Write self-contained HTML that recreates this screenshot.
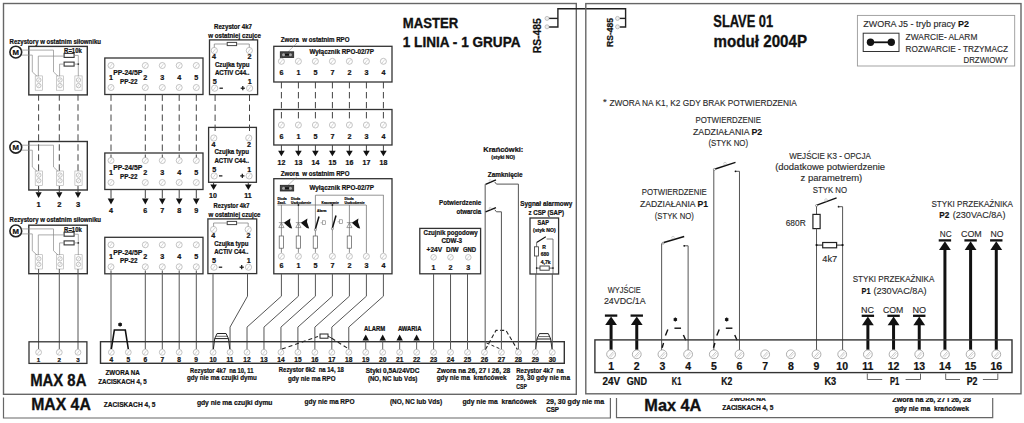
<!DOCTYPE html>
<html><head><meta charset="utf-8"><title>MASTER / SLAVE</title>
<style>
html,body{margin:0;padding:0;background:#fff;}
body{width:1024px;height:423px;overflow:hidden;}
svg{display:block;font-family:"Liberation Sans", sans-serif;}
text{fill:#111;stroke:#111;stroke-width:0.22px;}
text.r{fill:#2a2a2a;stroke:#2a2a2a;stroke-width:0.14px;}
text.r tspan[font-weight]{fill:#111;stroke:#111;}
</style></head>
<body>
<svg width="1024" height="423" viewBox="0 0 1024 423">
<defs><clipPath id="cl1"><rect x="600" y="397.9" width="424" height="30"/></clipPath></defs>
<rect width="1024" height="423" fill="#fff"/>
<rect x="3.5" y="3.5" width="572.8" height="390.8" fill="none" stroke="#666" stroke-width="1.4"/>
<text x="9.6" y="43.9" font-size="6.6" font-weight="bold" textLength="91.4" lengthAdjust="spacingAndGlyphs">Rezystory w ostatnim siłowniku</text>
<rect x="28.8" y="46.4" width="58.5" height="48.5" fill="none" stroke="#333" stroke-width="1.4"/>
<circle cx="15.8" cy="52.1" r="5.9" fill="#fff" stroke="#222" stroke-width="1.6"/>
<text x="15.8" y="54.9" font-size="7.8" font-weight="bold" text-anchor="middle">M</text>
<rect x="35.2" y="75.9" width="7.2" height="14.3" fill="none" stroke="#aaa" stroke-width="0.6"/>
<circle cx="38.8" cy="80" r="2.2" fill="none" stroke="#aaa" stroke-width="0.7"/>
<line x1="37.81" y1="81.32" x2="39.79" y2="78.68" stroke="#bbb" stroke-width="0.6"/>
<circle cx="38.8" cy="85.6" r="2.2" fill="none" stroke="#aaa" stroke-width="0.7"/>
<line x1="37.81" y1="86.92" x2="39.79" y2="84.28" stroke="#bbb" stroke-width="0.6"/>
<rect x="56.4" y="75.9" width="7.2" height="14.3" fill="none" stroke="#aaa" stroke-width="0.6"/>
<circle cx="60" cy="80" r="2.2" fill="none" stroke="#aaa" stroke-width="0.7"/>
<line x1="59.01" y1="81.32" x2="60.99" y2="78.68" stroke="#bbb" stroke-width="0.6"/>
<circle cx="60" cy="85.6" r="2.2" fill="none" stroke="#aaa" stroke-width="0.7"/>
<line x1="59.01" y1="86.92" x2="60.99" y2="84.28" stroke="#bbb" stroke-width="0.6"/>
<rect x="74.9" y="75.9" width="7.2" height="14.3" fill="none" stroke="#aaa" stroke-width="0.6"/>
<circle cx="78.5" cy="80" r="2.2" fill="none" stroke="#aaa" stroke-width="0.7"/>
<line x1="77.51" y1="81.32" x2="79.49" y2="78.68" stroke="#bbb" stroke-width="0.6"/>
<circle cx="78.5" cy="85.6" r="2.2" fill="none" stroke="#aaa" stroke-width="0.7"/>
<line x1="77.51" y1="86.92" x2="79.49" y2="84.28" stroke="#bbb" stroke-width="0.6"/>
<polyline points="21.6,50.1 53.5,50.1 53.5,71.9 58.2,76.4" fill="none" stroke="#888" stroke-width="0.7"/>
<polyline points="21.6,55.1 32.3,55.1 32.3,71.9 37.2,76.4" fill="none" stroke="#888" stroke-width="0.7"/>
<rect x="64.1" y="53.4" width="10" height="4" fill="none" stroke="#333" stroke-width="1.1"/>
<rect x="64.1" y="62.1" width="10" height="4" fill="none" stroke="#333" stroke-width="1.1"/>
<text x="64.1" y="52.9" font-size="6.4" font-weight="bold" textLength="17.7" lengthAdjust="spacingAndGlyphs">R=10k</text>
<polyline points="38.3,76.4 38.3,56.1 64.1,56.1" fill="none" stroke="#888" stroke-width="0.7"/>
<polyline points="59.6,76.4 59.6,64.1 64.1,64.1" fill="none" stroke="#888" stroke-width="0.7"/>
<polyline points="74.1,55.4 78.3,55.4 78.3,76.4" fill="none" stroke="#888" stroke-width="0.7"/>
<line x1="74.1" y1="64.1" x2="78.3" y2="64.1" stroke="#888" stroke-width="0.7"/>
<circle cx="78.3" cy="64.1" r="0.9" fill="#333" stroke="#333" stroke-width="0"/>
<rect x="28.8" y="141.5" width="58.5" height="48.5" fill="none" stroke="#333" stroke-width="1.4"/>
<circle cx="15.8" cy="147.2" r="5.9" fill="#fff" stroke="#222" stroke-width="1.6"/>
<text x="15.8" y="150" font-size="7.8" font-weight="bold" text-anchor="middle">M</text>
<rect x="35.2" y="171" width="7.2" height="14.3" fill="none" stroke="#aaa" stroke-width="0.6"/>
<circle cx="38.8" cy="175.1" r="2.2" fill="none" stroke="#aaa" stroke-width="0.7"/>
<line x1="37.81" y1="176.42" x2="39.79" y2="173.78" stroke="#bbb" stroke-width="0.6"/>
<circle cx="38.8" cy="180.7" r="2.2" fill="none" stroke="#aaa" stroke-width="0.7"/>
<line x1="37.81" y1="182.02" x2="39.79" y2="179.38" stroke="#bbb" stroke-width="0.6"/>
<rect x="56.4" y="171" width="7.2" height="14.3" fill="none" stroke="#aaa" stroke-width="0.6"/>
<circle cx="60" cy="175.1" r="2.2" fill="none" stroke="#aaa" stroke-width="0.7"/>
<line x1="59.01" y1="176.42" x2="60.99" y2="173.78" stroke="#bbb" stroke-width="0.6"/>
<circle cx="60" cy="180.7" r="2.2" fill="none" stroke="#aaa" stroke-width="0.7"/>
<line x1="59.01" y1="182.02" x2="60.99" y2="179.38" stroke="#bbb" stroke-width="0.6"/>
<rect x="74.9" y="171" width="7.2" height="14.3" fill="none" stroke="#aaa" stroke-width="0.6"/>
<circle cx="78.5" cy="175.1" r="2.2" fill="none" stroke="#aaa" stroke-width="0.7"/>
<line x1="77.51" y1="176.42" x2="79.49" y2="173.78" stroke="#bbb" stroke-width="0.6"/>
<circle cx="78.5" cy="180.7" r="2.2" fill="none" stroke="#aaa" stroke-width="0.7"/>
<line x1="77.51" y1="182.02" x2="79.49" y2="179.38" stroke="#bbb" stroke-width="0.6"/>
<polyline points="21.6,145.2 53.5,145.2 53.5,167 58.2,171.5" fill="none" stroke="#888" stroke-width="0.7"/>
<polyline points="21.6,150.2 32.3,150.2 32.3,167 37.2,171.5" fill="none" stroke="#888" stroke-width="0.7"/>
<text x="9.6" y="221.8" font-size="6.6" font-weight="bold" textLength="91.4" lengthAdjust="spacingAndGlyphs">Rezystory w ostatnim siłowniku</text>
<rect x="28.8" y="225.2" width="58.5" height="48.5" fill="none" stroke="#333" stroke-width="1.4"/>
<circle cx="15.8" cy="230.9" r="5.9" fill="#fff" stroke="#222" stroke-width="1.6"/>
<text x="15.8" y="233.7" font-size="7.8" font-weight="bold" text-anchor="middle">M</text>
<rect x="35.2" y="254.7" width="7.2" height="14.3" fill="none" stroke="#aaa" stroke-width="0.6"/>
<circle cx="38.8" cy="258.8" r="2.2" fill="none" stroke="#aaa" stroke-width="0.7"/>
<line x1="37.81" y1="260.12" x2="39.79" y2="257.48" stroke="#bbb" stroke-width="0.6"/>
<circle cx="38.8" cy="264.4" r="2.2" fill="none" stroke="#aaa" stroke-width="0.7"/>
<line x1="37.81" y1="265.72" x2="39.79" y2="263.08" stroke="#bbb" stroke-width="0.6"/>
<rect x="56.4" y="254.7" width="7.2" height="14.3" fill="none" stroke="#aaa" stroke-width="0.6"/>
<circle cx="60" cy="258.8" r="2.2" fill="none" stroke="#aaa" stroke-width="0.7"/>
<line x1="59.01" y1="260.12" x2="60.99" y2="257.48" stroke="#bbb" stroke-width="0.6"/>
<circle cx="60" cy="264.4" r="2.2" fill="none" stroke="#aaa" stroke-width="0.7"/>
<line x1="59.01" y1="265.72" x2="60.99" y2="263.08" stroke="#bbb" stroke-width="0.6"/>
<rect x="74.9" y="254.7" width="7.2" height="14.3" fill="none" stroke="#aaa" stroke-width="0.6"/>
<circle cx="78.5" cy="258.8" r="2.2" fill="none" stroke="#aaa" stroke-width="0.7"/>
<line x1="77.51" y1="260.12" x2="79.49" y2="257.48" stroke="#bbb" stroke-width="0.6"/>
<circle cx="78.5" cy="264.4" r="2.2" fill="none" stroke="#aaa" stroke-width="0.7"/>
<line x1="77.51" y1="265.72" x2="79.49" y2="263.08" stroke="#bbb" stroke-width="0.6"/>
<polyline points="21.6,228.9 53.5,228.9 53.5,250.7 58.2,255.2" fill="none" stroke="#888" stroke-width="0.7"/>
<polyline points="21.6,233.9 32.3,233.9 32.3,250.7 37.2,255.2" fill="none" stroke="#888" stroke-width="0.7"/>
<rect x="64.1" y="232.2" width="10" height="4" fill="none" stroke="#333" stroke-width="1.1"/>
<rect x="64.1" y="240.9" width="10" height="4" fill="none" stroke="#333" stroke-width="1.1"/>
<text x="64.1" y="231.7" font-size="6.4" font-weight="bold" textLength="17.7" lengthAdjust="spacingAndGlyphs">R=10k</text>
<polyline points="38.3,255.2 38.3,234.9 64.1,234.9" fill="none" stroke="#888" stroke-width="0.7"/>
<polyline points="59.6,255.2 59.6,242.9 64.1,242.9" fill="none" stroke="#888" stroke-width="0.7"/>
<polyline points="74.1,234.2 78.3,234.2 78.3,255.2" fill="none" stroke="#888" stroke-width="0.7"/>
<line x1="74.1" y1="242.9" x2="78.3" y2="242.9" stroke="#888" stroke-width="0.7"/>
<circle cx="78.3" cy="242.9" r="0.9" fill="#333" stroke="#333" stroke-width="0"/>
<line x1="38.6" y1="94.3" x2="38.6" y2="172" stroke="#444" stroke-width="1" stroke-dasharray="6.4,3.6"/>
<line x1="38.6" y1="186" x2="38.6" y2="192" stroke="#444" stroke-width="1"/>
<polygon points="35.5,192.2 41.7,192.2 38.6,197.9" fill="#111" stroke="none" stroke-width="0"/>
<line x1="38.6" y1="269" x2="38.6" y2="349" stroke="#555" stroke-width="1"/>
<line x1="59.3" y1="94.3" x2="59.3" y2="172" stroke="#444" stroke-width="1" stroke-dasharray="6.4,3.6"/>
<line x1="59.3" y1="186" x2="59.3" y2="192" stroke="#444" stroke-width="1"/>
<polygon points="56.2,192.2 62.4,192.2 59.3,197.9" fill="#111" stroke="none" stroke-width="0"/>
<line x1="59.3" y1="269" x2="59.3" y2="349" stroke="#555" stroke-width="1"/>
<line x1="78" y1="94.3" x2="78" y2="172" stroke="#444" stroke-width="1" stroke-dasharray="6.4,3.6"/>
<line x1="78" y1="186" x2="78" y2="192" stroke="#444" stroke-width="1"/>
<polygon points="74.9,192.2 81.1,192.2 78,197.9" fill="#111" stroke="none" stroke-width="0"/>
<line x1="78" y1="269" x2="78" y2="349" stroke="#555" stroke-width="1"/>
<text x="38.6" y="206.5" font-size="7.6" font-weight="bold" text-anchor="middle">1</text>
<text x="59.3" y="206.5" font-size="7.6" font-weight="bold" text-anchor="middle">2</text>
<text x="78" y="206.5" font-size="7.6" font-weight="bold" text-anchor="middle">3</text>
<rect x="29" y="341.8" width="57.9" height="21.6" fill="none" stroke="#333" stroke-width="1.3"/>
<circle cx="38.6" cy="352.3" r="2.9" fill="none" stroke="#aaa" stroke-width="0.7"/>
<line x1="37.3" y1="354.04" x2="39.91" y2="350.56" stroke="#bbb" stroke-width="0.6"/>
<text x="38.6" y="362.3" font-size="6.2" font-weight="bold" text-anchor="middle">1</text>
<circle cx="59.3" cy="352.3" r="2.9" fill="none" stroke="#aaa" stroke-width="0.7"/>
<line x1="57.99" y1="354.04" x2="60.6" y2="350.56" stroke="#bbb" stroke-width="0.6"/>
<text x="59.3" y="362.3" font-size="6.2" font-weight="bold" text-anchor="middle">2</text>
<circle cx="78" cy="352.3" r="2.9" fill="none" stroke="#aaa" stroke-width="0.7"/>
<line x1="76.69" y1="354.04" x2="79.31" y2="350.56" stroke="#bbb" stroke-width="0.6"/>
<text x="78" y="362.3" font-size="6.2" font-weight="bold" text-anchor="middle">3</text>
<text x="30.2" y="386.1" font-size="16.2" font-weight="bold" textLength="56.2" lengthAdjust="spacingAndGlyphs" style="stroke:#111;stroke-width:0.32px">MAX 8A</text>
<rect x="104.8" y="58" width="98.2" height="36.5" fill="none" stroke="#333" stroke-width="1.3"/>
<circle cx="111" cy="65.5" r="3" fill="none" stroke="#aaa" stroke-width="0.7"/>
<line x1="109.65" y1="67.3" x2="112.35" y2="63.7" stroke="#bbb" stroke-width="0.6"/>
<circle cx="111" cy="87.5" r="3" fill="none" stroke="#aaa" stroke-width="0.7"/>
<line x1="109.65" y1="89.3" x2="112.35" y2="85.7" stroke="#bbb" stroke-width="0.6"/>
<circle cx="145.3" cy="65.5" r="3" fill="none" stroke="#aaa" stroke-width="0.7"/>
<line x1="143.95" y1="67.3" x2="146.65" y2="63.7" stroke="#bbb" stroke-width="0.6"/>
<circle cx="145.3" cy="87.5" r="3" fill="none" stroke="#aaa" stroke-width="0.7"/>
<line x1="143.95" y1="89.3" x2="146.65" y2="85.7" stroke="#bbb" stroke-width="0.6"/>
<circle cx="162.3" cy="65.5" r="3" fill="none" stroke="#aaa" stroke-width="0.7"/>
<line x1="160.95" y1="67.3" x2="163.65" y2="63.7" stroke="#bbb" stroke-width="0.6"/>
<circle cx="162.3" cy="87.5" r="3" fill="none" stroke="#aaa" stroke-width="0.7"/>
<line x1="160.95" y1="89.3" x2="163.65" y2="85.7" stroke="#bbb" stroke-width="0.6"/>
<circle cx="179.2" cy="65.5" r="3" fill="none" stroke="#aaa" stroke-width="0.7"/>
<line x1="177.85" y1="67.3" x2="180.55" y2="63.7" stroke="#bbb" stroke-width="0.6"/>
<circle cx="179.2" cy="87.5" r="3" fill="none" stroke="#aaa" stroke-width="0.7"/>
<line x1="177.85" y1="89.3" x2="180.55" y2="85.7" stroke="#bbb" stroke-width="0.6"/>
<circle cx="196.3" cy="65.5" r="3" fill="none" stroke="#aaa" stroke-width="0.7"/>
<line x1="194.95" y1="67.3" x2="197.65" y2="63.7" stroke="#bbb" stroke-width="0.6"/>
<circle cx="196.3" cy="87.5" r="3" fill="none" stroke="#aaa" stroke-width="0.7"/>
<line x1="194.95" y1="89.3" x2="197.65" y2="85.7" stroke="#bbb" stroke-width="0.6"/>
<text x="111" y="79.6" font-size="7.2" font-weight="bold" text-anchor="middle">1</text>
<text x="145.3" y="79.6" font-size="7.2" font-weight="bold" text-anchor="middle">2</text>
<text x="162.3" y="79.6" font-size="7.2" font-weight="bold" text-anchor="middle">3</text>
<text x="179.2" y="79.6" font-size="7.2" font-weight="bold" text-anchor="middle">4</text>
<text x="196.3" y="79.6" font-size="7.2" font-weight="bold" text-anchor="middle">5</text>
<text x="113.3" y="75.2" font-size="7" font-weight="bold" textLength="29" lengthAdjust="spacingAndGlyphs">PP-24/5P</text>
<text x="120" y="83.7" font-size="7" font-weight="bold" textLength="17.5" lengthAdjust="spacingAndGlyphs">PP-22</text>
<rect x="104.8" y="153" width="98.2" height="36.5" fill="none" stroke="#333" stroke-width="1.3"/>
<circle cx="111" cy="160.5" r="3" fill="none" stroke="#aaa" stroke-width="0.7"/>
<line x1="109.65" y1="162.3" x2="112.35" y2="158.7" stroke="#bbb" stroke-width="0.6"/>
<circle cx="111" cy="182.5" r="3" fill="none" stroke="#aaa" stroke-width="0.7"/>
<line x1="109.65" y1="184.3" x2="112.35" y2="180.7" stroke="#bbb" stroke-width="0.6"/>
<circle cx="145.3" cy="160.5" r="3" fill="none" stroke="#aaa" stroke-width="0.7"/>
<line x1="143.95" y1="162.3" x2="146.65" y2="158.7" stroke="#bbb" stroke-width="0.6"/>
<circle cx="145.3" cy="182.5" r="3" fill="none" stroke="#aaa" stroke-width="0.7"/>
<line x1="143.95" y1="184.3" x2="146.65" y2="180.7" stroke="#bbb" stroke-width="0.6"/>
<circle cx="162.3" cy="160.5" r="3" fill="none" stroke="#aaa" stroke-width="0.7"/>
<line x1="160.95" y1="162.3" x2="163.65" y2="158.7" stroke="#bbb" stroke-width="0.6"/>
<circle cx="162.3" cy="182.5" r="3" fill="none" stroke="#aaa" stroke-width="0.7"/>
<line x1="160.95" y1="184.3" x2="163.65" y2="180.7" stroke="#bbb" stroke-width="0.6"/>
<circle cx="179.2" cy="160.5" r="3" fill="none" stroke="#aaa" stroke-width="0.7"/>
<line x1="177.85" y1="162.3" x2="180.55" y2="158.7" stroke="#bbb" stroke-width="0.6"/>
<circle cx="179.2" cy="182.5" r="3" fill="none" stroke="#aaa" stroke-width="0.7"/>
<line x1="177.85" y1="184.3" x2="180.55" y2="180.7" stroke="#bbb" stroke-width="0.6"/>
<circle cx="196.3" cy="160.5" r="3" fill="none" stroke="#aaa" stroke-width="0.7"/>
<line x1="194.95" y1="162.3" x2="197.65" y2="158.7" stroke="#bbb" stroke-width="0.6"/>
<circle cx="196.3" cy="182.5" r="3" fill="none" stroke="#aaa" stroke-width="0.7"/>
<line x1="194.95" y1="184.3" x2="197.65" y2="180.7" stroke="#bbb" stroke-width="0.6"/>
<text x="111" y="174.6" font-size="7.2" font-weight="bold" text-anchor="middle">1</text>
<text x="145.3" y="174.6" font-size="7.2" font-weight="bold" text-anchor="middle">2</text>
<text x="162.3" y="174.6" font-size="7.2" font-weight="bold" text-anchor="middle">3</text>
<text x="179.2" y="174.6" font-size="7.2" font-weight="bold" text-anchor="middle">4</text>
<text x="196.3" y="174.6" font-size="7.2" font-weight="bold" text-anchor="middle">5</text>
<text x="113.3" y="170.2" font-size="7" font-weight="bold" textLength="29" lengthAdjust="spacingAndGlyphs">PP-24/5P</text>
<text x="120" y="178.7" font-size="7" font-weight="bold" textLength="17.5" lengthAdjust="spacingAndGlyphs">PP-22</text>
<rect x="104.8" y="237.3" width="98.2" height="36.5" fill="none" stroke="#333" stroke-width="1.3"/>
<circle cx="111" cy="244.8" r="3" fill="none" stroke="#aaa" stroke-width="0.7"/>
<line x1="109.65" y1="246.6" x2="112.35" y2="243" stroke="#bbb" stroke-width="0.6"/>
<circle cx="111" cy="266.8" r="3" fill="none" stroke="#aaa" stroke-width="0.7"/>
<line x1="109.65" y1="268.6" x2="112.35" y2="265" stroke="#bbb" stroke-width="0.6"/>
<circle cx="145.3" cy="244.8" r="3" fill="none" stroke="#aaa" stroke-width="0.7"/>
<line x1="143.95" y1="246.6" x2="146.65" y2="243" stroke="#bbb" stroke-width="0.6"/>
<circle cx="145.3" cy="266.8" r="3" fill="none" stroke="#aaa" stroke-width="0.7"/>
<line x1="143.95" y1="268.6" x2="146.65" y2="265" stroke="#bbb" stroke-width="0.6"/>
<circle cx="162.3" cy="244.8" r="3" fill="none" stroke="#aaa" stroke-width="0.7"/>
<line x1="160.95" y1="246.6" x2="163.65" y2="243" stroke="#bbb" stroke-width="0.6"/>
<circle cx="162.3" cy="266.8" r="3" fill="none" stroke="#aaa" stroke-width="0.7"/>
<line x1="160.95" y1="268.6" x2="163.65" y2="265" stroke="#bbb" stroke-width="0.6"/>
<circle cx="179.2" cy="244.8" r="3" fill="none" stroke="#aaa" stroke-width="0.7"/>
<line x1="177.85" y1="246.6" x2="180.55" y2="243" stroke="#bbb" stroke-width="0.6"/>
<circle cx="179.2" cy="266.8" r="3" fill="none" stroke="#aaa" stroke-width="0.7"/>
<line x1="177.85" y1="268.6" x2="180.55" y2="265" stroke="#bbb" stroke-width="0.6"/>
<circle cx="196.3" cy="244.8" r="3" fill="none" stroke="#aaa" stroke-width="0.7"/>
<line x1="194.95" y1="246.6" x2="197.65" y2="243" stroke="#bbb" stroke-width="0.6"/>
<circle cx="196.3" cy="266.8" r="3" fill="none" stroke="#aaa" stroke-width="0.7"/>
<line x1="194.95" y1="268.6" x2="197.65" y2="265" stroke="#bbb" stroke-width="0.6"/>
<text x="111" y="258.9" font-size="7.2" font-weight="bold" text-anchor="middle">1</text>
<text x="145.3" y="258.9" font-size="7.2" font-weight="bold" text-anchor="middle">2</text>
<text x="162.3" y="258.9" font-size="7.2" font-weight="bold" text-anchor="middle">3</text>
<text x="179.2" y="258.9" font-size="7.2" font-weight="bold" text-anchor="middle">4</text>
<text x="196.3" y="258.9" font-size="7.2" font-weight="bold" text-anchor="middle">5</text>
<text x="113.3" y="254.5" font-size="7" font-weight="bold" textLength="29" lengthAdjust="spacingAndGlyphs">PP-24/5P</text>
<text x="120" y="263" font-size="7" font-weight="bold" textLength="17.5" lengthAdjust="spacingAndGlyphs">PP-22</text>
<line x1="111" y1="94.5" x2="111" y2="157.5" stroke="#444" stroke-width="1" stroke-dasharray="6.4,3.6"/>
<line x1="111" y1="189.5" x2="111" y2="198" stroke="#444" stroke-width="1"/>
<polygon points="107.7,198.4 114.3,198.4 111,204.4" fill="#111" stroke="none" stroke-width="0"/>
<line x1="111" y1="270.5" x2="111" y2="349" stroke="#555" stroke-width="1"/>
<line x1="145.3" y1="94.5" x2="145.3" y2="157.5" stroke="#444" stroke-width="1" stroke-dasharray="6.4,3.6"/>
<line x1="145.3" y1="189.5" x2="145.3" y2="198" stroke="#444" stroke-width="1"/>
<polygon points="142,198.4 148.6,198.4 145.3,204.4" fill="#111" stroke="none" stroke-width="0"/>
<line x1="145.3" y1="270.5" x2="145.3" y2="349" stroke="#555" stroke-width="1"/>
<line x1="162.3" y1="94.5" x2="162.3" y2="157.5" stroke="#444" stroke-width="1" stroke-dasharray="6.4,3.6"/>
<line x1="162.3" y1="189.5" x2="162.3" y2="198" stroke="#444" stroke-width="1"/>
<polygon points="159,198.4 165.6,198.4 162.3,204.4" fill="#111" stroke="none" stroke-width="0"/>
<line x1="162.3" y1="270.5" x2="162.3" y2="349" stroke="#555" stroke-width="1"/>
<line x1="179.2" y1="94.5" x2="179.2" y2="157.5" stroke="#444" stroke-width="1" stroke-dasharray="6.4,3.6"/>
<line x1="179.2" y1="189.5" x2="179.2" y2="198" stroke="#444" stroke-width="1"/>
<polygon points="175.9,198.4 182.5,198.4 179.2,204.4" fill="#111" stroke="none" stroke-width="0"/>
<line x1="179.2" y1="270.5" x2="179.2" y2="349" stroke="#555" stroke-width="1"/>
<line x1="196.3" y1="94.5" x2="196.3" y2="157.5" stroke="#444" stroke-width="1" stroke-dasharray="6.4,3.6"/>
<line x1="196.3" y1="189.5" x2="196.3" y2="198" stroke="#444" stroke-width="1"/>
<polygon points="193,198.4 199.6,198.4 196.3,204.4" fill="#111" stroke="none" stroke-width="0"/>
<line x1="196.3" y1="270.5" x2="196.3" y2="349" stroke="#555" stroke-width="1"/>
<text x="111" y="213" font-size="7.2" font-weight="bold" text-anchor="middle">4</text>
<text x="145.3" y="213" font-size="7.2" font-weight="bold" text-anchor="middle">6</text>
<text x="162.3" y="213" font-size="7.2" font-weight="bold" text-anchor="middle">7</text>
<text x="179.2" y="213" font-size="7.2" font-weight="bold" text-anchor="middle">8</text>
<text x="196.3" y="213" font-size="7.2" font-weight="bold" text-anchor="middle">9</text>
<text x="214" y="28.6" font-size="6.8" font-weight="bold" textLength="38" lengthAdjust="spacingAndGlyphs">Rezystor 4k7</text>
<text x="208.2" y="37.8" font-size="6.8" font-weight="bold" textLength="52.8" lengthAdjust="spacingAndGlyphs">w ostatniej czujce</text>
<rect x="209.5" y="39.9" width="48.1" height="54.7" fill="none" stroke="#333" stroke-width="1.3"/>
<circle cx="214.3" cy="50.5" r="3.1" fill="none" stroke="#aaa" stroke-width="0.7"/>
<line x1="212.91" y1="52.36" x2="215.7" y2="48.64" stroke="#bbb" stroke-width="0.6"/>
<circle cx="249.3" cy="50.5" r="3.1" fill="none" stroke="#aaa" stroke-width="0.7"/>
<line x1="247.91" y1="52.36" x2="250.7" y2="48.64" stroke="#bbb" stroke-width="0.6"/>
<circle cx="214.7" cy="88.2" r="3.1" fill="none" stroke="#aaa" stroke-width="0.7"/>
<line x1="213.31" y1="90.06" x2="216.1" y2="86.34" stroke="#bbb" stroke-width="0.6"/>
<circle cx="249.6" cy="88.2" r="3.1" fill="none" stroke="#aaa" stroke-width="0.7"/>
<line x1="248.21" y1="90.06" x2="251" y2="86.34" stroke="#bbb" stroke-width="0.6"/>
<text x="214" y="59.2" font-size="7.2" font-weight="bold" text-anchor="middle">4</text>
<text x="249.6" y="59.2" font-size="7.2" font-weight="bold" text-anchor="middle">2</text>
<text x="214.9" y="66.9" font-size="6.7" font-weight="bold" textLength="34.6" lengthAdjust="spacingAndGlyphs">Czujka typu</text>
<text x="214.9" y="75.1" font-size="6.7" font-weight="bold" textLength="34.6" lengthAdjust="spacingAndGlyphs">ACTIV C44..</text>
<text x="214.7" y="84.2" font-size="7.2" font-weight="bold" text-anchor="middle">5</text>
<text x="249.8" y="84.2" font-size="7.2" font-weight="bold" text-anchor="middle">1</text>
<line x1="219.5" y1="88.2" x2="222.9" y2="88.2" stroke="#111" stroke-width="1.2"/>
<line x1="240.7" y1="88.2" x2="244.9" y2="88.2" stroke="#111" stroke-width="1.2"/>
<line x1="242.8" y1="86.1" x2="242.8" y2="90.3" stroke="#111" stroke-width="1.2"/>
<rect x="227.2" y="42.4" width="9.4" height="3.2" fill="#fff" stroke="#444" stroke-width="1"/>
<polyline points="214.3,47.5 214.3,44 227.2,44" fill="none" stroke="#777" stroke-width="0.7"/>
<polyline points="236.6,44 249.3,44 249.3,47.5" fill="none" stroke="#777" stroke-width="0.7"/>
<rect x="208.6" y="127.4" width="47.8" height="54.9" fill="none" stroke="#333" stroke-width="1.3"/>
<circle cx="213.8" cy="138" r="3.1" fill="none" stroke="#aaa" stroke-width="0.7"/>
<line x1="212.41" y1="139.86" x2="215.2" y2="136.14" stroke="#bbb" stroke-width="0.6"/>
<circle cx="248.8" cy="138" r="3.1" fill="none" stroke="#aaa" stroke-width="0.7"/>
<line x1="247.41" y1="139.86" x2="250.2" y2="136.14" stroke="#bbb" stroke-width="0.6"/>
<circle cx="214.2" cy="175.9" r="3.1" fill="none" stroke="#aaa" stroke-width="0.7"/>
<line x1="212.81" y1="177.76" x2="215.6" y2="174.04" stroke="#bbb" stroke-width="0.6"/>
<circle cx="249.1" cy="175.9" r="3.1" fill="none" stroke="#aaa" stroke-width="0.7"/>
<line x1="247.71" y1="177.76" x2="250.5" y2="174.04" stroke="#bbb" stroke-width="0.6"/>
<text x="213.5" y="146.7" font-size="7.2" font-weight="bold" text-anchor="middle">4</text>
<text x="249.1" y="146.7" font-size="7.2" font-weight="bold" text-anchor="middle">2</text>
<text x="214.4" y="154.4" font-size="6.7" font-weight="bold" textLength="34.6" lengthAdjust="spacingAndGlyphs">Czujka typu</text>
<text x="214.4" y="162.6" font-size="6.7" font-weight="bold" textLength="34.6" lengthAdjust="spacingAndGlyphs">ACTIV C44..</text>
<text x="214.2" y="171.9" font-size="7.2" font-weight="bold" text-anchor="middle">5</text>
<text x="249.3" y="171.9" font-size="7.2" font-weight="bold" text-anchor="middle">1</text>
<line x1="219" y1="175.9" x2="222.4" y2="175.9" stroke="#111" stroke-width="1.2"/>
<line x1="240.2" y1="175.9" x2="244.4" y2="175.9" stroke="#111" stroke-width="1.2"/>
<line x1="242.3" y1="173.8" x2="242.3" y2="178" stroke="#111" stroke-width="1.2"/>
<text x="213.6" y="208.2" font-size="6.8" font-weight="bold" textLength="35.9" lengthAdjust="spacingAndGlyphs">Rezystor 4k7</text>
<text x="208.5" y="216.8" font-size="6.8" font-weight="bold" textLength="52" lengthAdjust="spacingAndGlyphs">w ostatniej czujce</text>
<rect x="207.9" y="218.9" width="48.8" height="54.7" fill="none" stroke="#333" stroke-width="1.3"/>
<circle cx="213.6" cy="229.5" r="3.1" fill="none" stroke="#aaa" stroke-width="0.7"/>
<line x1="212.2" y1="231.36" x2="215" y2="227.64" stroke="#bbb" stroke-width="0.6"/>
<circle cx="248.2" cy="229.5" r="3.1" fill="none" stroke="#aaa" stroke-width="0.7"/>
<line x1="246.8" y1="231.36" x2="249.59" y2="227.64" stroke="#bbb" stroke-width="0.6"/>
<circle cx="214" cy="267.2" r="3.1" fill="none" stroke="#aaa" stroke-width="0.7"/>
<line x1="212.6" y1="269.06" x2="215.4" y2="265.34" stroke="#bbb" stroke-width="0.6"/>
<circle cx="248.5" cy="267.2" r="3.1" fill="none" stroke="#aaa" stroke-width="0.7"/>
<line x1="247.1" y1="269.06" x2="249.9" y2="265.34" stroke="#bbb" stroke-width="0.6"/>
<text x="213.3" y="238.2" font-size="7.2" font-weight="bold" text-anchor="middle">4</text>
<text x="248.5" y="238.2" font-size="7.2" font-weight="bold" text-anchor="middle">2</text>
<text x="214.2" y="245.9" font-size="6.7" font-weight="bold" textLength="34.2" lengthAdjust="spacingAndGlyphs">Czujka typu</text>
<text x="214.2" y="254.1" font-size="6.7" font-weight="bold" textLength="34.2" lengthAdjust="spacingAndGlyphs">ACTIV C44..</text>
<text x="214" y="263.2" font-size="7.2" font-weight="bold" text-anchor="middle">5</text>
<text x="248.7" y="263.2" font-size="7.2" font-weight="bold" text-anchor="middle">1</text>
<line x1="218.8" y1="267.2" x2="222.2" y2="267.2" stroke="#111" stroke-width="1.2"/>
<line x1="239.6" y1="267.2" x2="243.8" y2="267.2" stroke="#111" stroke-width="1.2"/>
<line x1="241.7" y1="265.1" x2="241.7" y2="269.3" stroke="#111" stroke-width="1.2"/>
<rect x="227.2" y="221.4" width="9.4" height="3.2" fill="#fff" stroke="#444" stroke-width="1"/>
<polyline points="213.6,226.5 213.6,223 227.2,223" fill="none" stroke="#777" stroke-width="0.7"/>
<polyline points="236.6,223 248.2,223 248.2,226.5" fill="none" stroke="#777" stroke-width="0.7"/>
<line x1="215.1" y1="94.6" x2="215.1" y2="134" stroke="#444" stroke-width="1" stroke-dasharray="6.4,3.6"/>
<line x1="249.5" y1="94.6" x2="249.5" y2="134" stroke="#444" stroke-width="1" stroke-dasharray="6.4,3.6"/>
<line x1="213.6" y1="182.3" x2="213.6" y2="185" stroke="#444" stroke-width="1"/>
<polygon points="210.3,184.6 216.9,184.6 213.6,190" fill="#111" stroke="none" stroke-width="0"/>
<line x1="248.3" y1="182.3" x2="248.3" y2="185" stroke="#444" stroke-width="1"/>
<polygon points="245,184.6 251.6,184.6 248.3,190" fill="#111" stroke="none" stroke-width="0"/>
<text x="213" y="198.3" font-size="7" font-weight="bold" text-anchor="middle">10</text>
<text x="248" y="198.3" font-size="7" font-weight="bold" text-anchor="middle">11</text>
<rect x="273.8" y="46.3" width="118.2" height="35.7" fill="none" stroke="#333" stroke-width="1.3"/>
<text x="280.8" y="42.3" font-size="6.8" font-weight="bold" textLength="68.7" lengthAdjust="spacingAndGlyphs">Zwora&#160;&#160;w ostatnim RPO</text>
<line x1="297" y1="43" x2="288" y2="51.8" stroke="#777" stroke-width="0.5"/>
<rect x="280.3" y="51.8" width="13.4" height="5.7" fill="#454545" stroke="#222" stroke-width="0.8"/>
<circle cx="283.6" cy="54.65" r="1.5" fill="#a8a8a8" stroke="#aaa" stroke-width="0"/>
<circle cx="290.4" cy="54.65" r="1.5" fill="#a8a8a8" stroke="#aaa" stroke-width="0"/>
<line x1="284.9" y1="54.65" x2="289.1" y2="54.65" stroke="#111" stroke-width="1.6"/>
<text x="309.5" y="53.8" font-size="6.8" font-weight="bold" textLength="64.5" lengthAdjust="spacingAndGlyphs">Wyłącznik RPO-02/7P</text>
<circle cx="281.4" cy="61.3" r="3" fill="none" stroke="#aaa" stroke-width="0.7"/>
<line x1="280.05" y1="63.1" x2="282.75" y2="59.5" stroke="#bbb" stroke-width="0.6"/>
<text x="281.4" y="74.6" font-size="7.2" font-weight="bold" text-anchor="middle">6</text>
<circle cx="298.4" cy="61.3" r="3" fill="none" stroke="#aaa" stroke-width="0.7"/>
<line x1="297.05" y1="63.1" x2="299.75" y2="59.5" stroke="#bbb" stroke-width="0.6"/>
<text x="298.4" y="74.6" font-size="7.2" font-weight="bold" text-anchor="middle">1</text>
<circle cx="315.4" cy="61.3" r="3" fill="none" stroke="#aaa" stroke-width="0.7"/>
<line x1="314.05" y1="63.1" x2="316.75" y2="59.5" stroke="#bbb" stroke-width="0.6"/>
<text x="315.4" y="74.6" font-size="7.2" font-weight="bold" text-anchor="middle">5</text>
<circle cx="332.4" cy="61.3" r="3" fill="none" stroke="#aaa" stroke-width="0.7"/>
<line x1="331.05" y1="63.1" x2="333.75" y2="59.5" stroke="#bbb" stroke-width="0.6"/>
<text x="332.4" y="74.6" font-size="7.2" font-weight="bold" text-anchor="middle">7</text>
<circle cx="349.4" cy="61.3" r="3" fill="none" stroke="#aaa" stroke-width="0.7"/>
<line x1="348.05" y1="63.1" x2="350.75" y2="59.5" stroke="#bbb" stroke-width="0.6"/>
<text x="349.4" y="74.6" font-size="7.2" font-weight="bold" text-anchor="middle">2</text>
<circle cx="366.4" cy="61.3" r="3" fill="none" stroke="#aaa" stroke-width="0.7"/>
<line x1="365.05" y1="63.1" x2="367.75" y2="59.5" stroke="#bbb" stroke-width="0.6"/>
<text x="366.4" y="74.6" font-size="7.2" font-weight="bold" text-anchor="middle">3</text>
<circle cx="383.4" cy="61.3" r="3" fill="none" stroke="#aaa" stroke-width="0.7"/>
<line x1="382.05" y1="63.1" x2="384.75" y2="59.5" stroke="#bbb" stroke-width="0.6"/>
<text x="383.4" y="74.6" font-size="7.2" font-weight="bold" text-anchor="middle">4</text>
<rect x="273.8" y="109.5" width="118.2" height="35.5" fill="none" stroke="#333" stroke-width="1.3"/>
<circle cx="281.4" cy="125" r="3" fill="none" stroke="#aaa" stroke-width="0.7"/>
<line x1="280.05" y1="126.8" x2="282.75" y2="123.2" stroke="#bbb" stroke-width="0.6"/>
<text x="281.4" y="138.8" font-size="7.2" font-weight="bold" text-anchor="middle">6</text>
<line x1="281.4" y1="82" x2="281.4" y2="121.5" stroke="#444" stroke-width="1" stroke-dasharray="6.4,3.6"/>
<line x1="281.4" y1="145" x2="281.4" y2="151.5" stroke="#444" stroke-width="1"/>
<polygon points="278.1,150.8 284.7,150.8 281.4,156.3" fill="#111" stroke="none" stroke-width="0"/>
<circle cx="298.4" cy="125" r="3" fill="none" stroke="#aaa" stroke-width="0.7"/>
<line x1="297.05" y1="126.8" x2="299.75" y2="123.2" stroke="#bbb" stroke-width="0.6"/>
<text x="298.4" y="138.8" font-size="7.2" font-weight="bold" text-anchor="middle">1</text>
<line x1="298.4" y1="82" x2="298.4" y2="121.5" stroke="#444" stroke-width="1" stroke-dasharray="6.4,3.6"/>
<line x1="298.4" y1="145" x2="298.4" y2="151.5" stroke="#444" stroke-width="1"/>
<polygon points="295.1,150.8 301.7,150.8 298.4,156.3" fill="#111" stroke="none" stroke-width="0"/>
<circle cx="315.4" cy="125" r="3" fill="none" stroke="#aaa" stroke-width="0.7"/>
<line x1="314.05" y1="126.8" x2="316.75" y2="123.2" stroke="#bbb" stroke-width="0.6"/>
<text x="315.4" y="138.8" font-size="7.2" font-weight="bold" text-anchor="middle">5</text>
<line x1="315.4" y1="82" x2="315.4" y2="121.5" stroke="#444" stroke-width="1" stroke-dasharray="6.4,3.6"/>
<line x1="315.4" y1="145" x2="315.4" y2="151.5" stroke="#444" stroke-width="1"/>
<polygon points="312.1,150.8 318.7,150.8 315.4,156.3" fill="#111" stroke="none" stroke-width="0"/>
<circle cx="332.4" cy="125" r="3" fill="none" stroke="#aaa" stroke-width="0.7"/>
<line x1="331.05" y1="126.8" x2="333.75" y2="123.2" stroke="#bbb" stroke-width="0.6"/>
<text x="332.4" y="138.8" font-size="7.2" font-weight="bold" text-anchor="middle">7</text>
<line x1="332.4" y1="82" x2="332.4" y2="121.5" stroke="#444" stroke-width="1" stroke-dasharray="6.4,3.6"/>
<line x1="332.4" y1="145" x2="332.4" y2="151.5" stroke="#444" stroke-width="1"/>
<polygon points="329.1,150.8 335.7,150.8 332.4,156.3" fill="#111" stroke="none" stroke-width="0"/>
<circle cx="349.4" cy="125" r="3" fill="none" stroke="#aaa" stroke-width="0.7"/>
<line x1="348.05" y1="126.8" x2="350.75" y2="123.2" stroke="#bbb" stroke-width="0.6"/>
<text x="349.4" y="138.8" font-size="7.2" font-weight="bold" text-anchor="middle">2</text>
<line x1="349.4" y1="82" x2="349.4" y2="121.5" stroke="#444" stroke-width="1" stroke-dasharray="6.4,3.6"/>
<line x1="349.4" y1="145" x2="349.4" y2="151.5" stroke="#444" stroke-width="1"/>
<polygon points="346.1,150.8 352.7,150.8 349.4,156.3" fill="#111" stroke="none" stroke-width="0"/>
<circle cx="366.4" cy="125" r="3" fill="none" stroke="#aaa" stroke-width="0.7"/>
<line x1="365.05" y1="126.8" x2="367.75" y2="123.2" stroke="#bbb" stroke-width="0.6"/>
<text x="366.4" y="138.8" font-size="7.2" font-weight="bold" text-anchor="middle">3</text>
<line x1="366.4" y1="82" x2="366.4" y2="121.5" stroke="#444" stroke-width="1" stroke-dasharray="6.4,3.6"/>
<line x1="366.4" y1="145" x2="366.4" y2="151.5" stroke="#444" stroke-width="1"/>
<polygon points="363.1,150.8 369.7,150.8 366.4,156.3" fill="#111" stroke="none" stroke-width="0"/>
<circle cx="383.4" cy="125" r="3" fill="none" stroke="#aaa" stroke-width="0.7"/>
<line x1="382.05" y1="126.8" x2="384.75" y2="123.2" stroke="#bbb" stroke-width="0.6"/>
<text x="383.4" y="138.8" font-size="7.2" font-weight="bold" text-anchor="middle">4</text>
<line x1="383.4" y1="82" x2="383.4" y2="121.5" stroke="#444" stroke-width="1" stroke-dasharray="6.4,3.6"/>
<line x1="383.4" y1="145" x2="383.4" y2="151.5" stroke="#444" stroke-width="1"/>
<polygon points="380.1,150.8 386.7,150.8 383.4,156.3" fill="#111" stroke="none" stroke-width="0"/>
<text x="281.4" y="165.2" font-size="7" font-weight="bold" text-anchor="middle">12</text>
<text x="298.4" y="165.2" font-size="7" font-weight="bold" text-anchor="middle">13</text>
<text x="315.4" y="165.2" font-size="7" font-weight="bold" text-anchor="middle">14</text>
<text x="332.4" y="165.2" font-size="7" font-weight="bold" text-anchor="middle">15</text>
<text x="349.4" y="165.2" font-size="7" font-weight="bold" text-anchor="middle">16</text>
<text x="366.4" y="165.2" font-size="7" font-weight="bold" text-anchor="middle">17</text>
<text x="383.4" y="165.2" font-size="7" font-weight="bold" text-anchor="middle">18</text>
<rect x="273.8" y="178.7" width="118.2" height="95.1" fill="none" stroke="#333" stroke-width="1.3"/>
<text x="280.8" y="176" font-size="6.8" font-weight="bold" textLength="68.7" lengthAdjust="spacingAndGlyphs">Zwora&#160;&#160;w ostatnim RPO</text>
<line x1="297" y1="176.7" x2="288" y2="185.3" stroke="#777" stroke-width="0.5"/>
<rect x="280.3" y="185.3" width="13.4" height="5.7" fill="#454545" stroke="#222" stroke-width="0.8"/>
<circle cx="283.6" cy="188.15" r="1.5" fill="#a8a8a8" stroke="#aaa" stroke-width="0"/>
<circle cx="290.4" cy="188.15" r="1.5" fill="#a8a8a8" stroke="#aaa" stroke-width="0"/>
<line x1="284.9" y1="188.15" x2="289.1" y2="188.15" stroke="#111" stroke-width="1.6"/>
<text x="309.5" y="189.6" font-size="6.8" font-weight="bold" textLength="64.5" lengthAdjust="spacingAndGlyphs">Wyłącznik RPO-02/7P</text>
<line x1="277.5" y1="205" x2="366.2" y2="205" stroke="#666" stroke-width="0.7"/>
<line x1="315.5" y1="195.2" x2="383.6" y2="195.2" stroke="#666" stroke-width="0.7"/>
<text x="277.5" y="199.8" font-size="3.3" font-weight="bold">Dioda</text>
<text x="277.5" y="204.2" font-size="3.3" font-weight="bold">Zasil.</text>
<text x="291" y="199.8" font-size="3.3" font-weight="bold">Dioda</text>
<text x="291" y="204.2" font-size="3.3" font-weight="bold">Uszkodzenie</text>
<text x="317" y="212" font-size="3.3" font-weight="bold">Alarm</text>
<text x="321.5" y="203.8" font-size="3.3" font-weight="bold">Kasowanie</text>
<text x="344.5" y="199.8" font-size="3.3" font-weight="bold">Dioda</text>
<text x="344.5" y="204.2" font-size="3.3" font-weight="bold">Uszkodzenie</text>
<circle cx="281.4" cy="256.3" r="3" fill="none" stroke="#aaa" stroke-width="0.7"/>
<line x1="280.05" y1="258.1" x2="282.75" y2="254.5" stroke="#bbb" stroke-width="0.6"/>
<text x="281.4" y="268" font-size="7.2" font-weight="bold" text-anchor="middle">6</text>
<circle cx="298.4" cy="256.3" r="3" fill="none" stroke="#aaa" stroke-width="0.7"/>
<line x1="297.05" y1="258.1" x2="299.75" y2="254.5" stroke="#bbb" stroke-width="0.6"/>
<text x="298.4" y="268" font-size="7.2" font-weight="bold" text-anchor="middle">1</text>
<circle cx="315.4" cy="256.3" r="3" fill="none" stroke="#aaa" stroke-width="0.7"/>
<line x1="314.05" y1="258.1" x2="316.75" y2="254.5" stroke="#bbb" stroke-width="0.6"/>
<text x="315.4" y="268" font-size="7.2" font-weight="bold" text-anchor="middle">5</text>
<circle cx="332.4" cy="256.3" r="3" fill="none" stroke="#aaa" stroke-width="0.7"/>
<line x1="331.05" y1="258.1" x2="333.75" y2="254.5" stroke="#bbb" stroke-width="0.6"/>
<text x="332.4" y="268" font-size="7.2" font-weight="bold" text-anchor="middle">7</text>
<circle cx="349.4" cy="256.3" r="3" fill="none" stroke="#aaa" stroke-width="0.7"/>
<line x1="348.05" y1="258.1" x2="350.75" y2="254.5" stroke="#bbb" stroke-width="0.6"/>
<text x="349.4" y="268" font-size="7.2" font-weight="bold" text-anchor="middle">2</text>
<circle cx="366.4" cy="256.3" r="3" fill="none" stroke="#aaa" stroke-width="0.7"/>
<line x1="365.05" y1="258.1" x2="367.75" y2="254.5" stroke="#bbb" stroke-width="0.6"/>
<text x="366.4" y="268" font-size="7.2" font-weight="bold" text-anchor="middle">3</text>
<circle cx="383.4" cy="256.3" r="3" fill="none" stroke="#aaa" stroke-width="0.7"/>
<line x1="382.05" y1="258.1" x2="384.75" y2="254.5" stroke="#bbb" stroke-width="0.6"/>
<text x="383.4" y="268" font-size="7.2" font-weight="bold" text-anchor="middle">4</text>
<line x1="281.4" y1="205" x2="281.4" y2="252.8" stroke="#666" stroke-width="0.7"/>
<polyline points="278.8,227.6 284,227.6 281.4,222.8 278.8,227.6" fill="none" stroke="#666" stroke-width="0.6"/>
<line x1="278.8" y1="222.6" x2="284" y2="222.6" stroke="#666" stroke-width="0.6"/>
<polygon points="283.8,222.8 290.4,218.4 290,222 292.2,228.4 289.8,228 286.8,225.4" fill="#111" stroke="none" stroke-width="0"/>
<rect x="279.2" y="236" width="4.4" height="12.2" fill="#fff" stroke="#555" stroke-width="0.7"/>
<line x1="298.4" y1="205" x2="298.4" y2="252.8" stroke="#666" stroke-width="0.7"/>
<polyline points="295.8,227.6 301,227.6 298.4,222.8 295.8,227.6" fill="none" stroke="#666" stroke-width="0.6"/>
<line x1="295.8" y1="222.6" x2="301" y2="222.6" stroke="#666" stroke-width="0.6"/>
<polygon points="300.8,222.8 307.4,218.4 307,222 309.2,228.4 306.8,228 303.8,225.4" fill="#111" stroke="none" stroke-width="0"/>
<rect x="296.2" y="236" width="4.4" height="12.2" fill="#fff" stroke="#555" stroke-width="0.7"/>
<line x1="315.4" y1="195.2" x2="315.4" y2="252.8" stroke="#666" stroke-width="0.7"/>
<line x1="315.4" y1="229" x2="319" y2="216.5" stroke="#111" stroke-width="1.5"/>
<circle cx="315.4" cy="229.8" r="1" fill="#fff" stroke="#555" stroke-width="0.6"/>
<line x1="320.6" y1="222.8" x2="322.4" y2="222.8" stroke="#777" stroke-width="0.6"/>
<rect x="322.4" y="220.8" width="3.2" height="3.8" fill="none" stroke="#777" stroke-width="0.6"/>
<rect x="313.2" y="236" width="4.4" height="12.2" fill="#fff" stroke="#555" stroke-width="0.7"/>
<line x1="332.4" y1="205" x2="332.4" y2="252.8" stroke="#666" stroke-width="0.7"/>
<line x1="332.4" y1="228" x2="336" y2="215.5" stroke="#111" stroke-width="1.5"/>
<circle cx="332.4" cy="228.8" r="1" fill="#fff" stroke="#555" stroke-width="0.6"/>
<line x1="337.6" y1="221.8" x2="339.4" y2="221.8" stroke="#777" stroke-width="0.6"/>
<rect x="339.4" y="219.8" width="3.2" height="3.8" fill="none" stroke="#777" stroke-width="0.6"/>
<line x1="349.4" y1="205" x2="349.4" y2="252.8" stroke="#666" stroke-width="0.7"/>
<polyline points="346.8,227.6 352,227.6 349.4,222.8 346.8,227.6" fill="none" stroke="#666" stroke-width="0.6"/>
<line x1="346.8" y1="222.6" x2="352" y2="222.6" stroke="#666" stroke-width="0.6"/>
<polygon points="351.8,222.8 358.4,218.4 358,222 360.2,228.4 357.8,228 354.8,225.4" fill="#111" stroke="none" stroke-width="0"/>
<rect x="347.2" y="236" width="4.4" height="12.2" fill="#fff" stroke="#555" stroke-width="0.7"/>
<line x1="366.4" y1="205" x2="366.4" y2="252.8" stroke="#666" stroke-width="0.7"/>
<line x1="383.4" y1="195.2" x2="383.4" y2="252.8" stroke="#666" stroke-width="0.7"/>
<circle cx="298.4" cy="205" r="0.9" fill="#222" stroke="#222" stroke-width="0"/>
<circle cx="332.4" cy="205" r="0.9" fill="#222" stroke="#222" stroke-width="0"/>
<polyline points="281.4,273.8 281.4,296.2 247.02,327.1 247.02,349.5" fill="none" stroke="#555" stroke-width="1"/>
<polyline points="298.4,273.8 298.4,296.2 263.98,327.1 263.98,349.5" fill="none" stroke="#555" stroke-width="1"/>
<polyline points="315.4,273.8 315.4,296.2 280.94,327.1 280.94,349.5" fill="none" stroke="#555" stroke-width="1"/>
<polyline points="332.4,273.8 332.4,296.2 297.9,327.1 297.9,349.5" fill="none" stroke="#555" stroke-width="1"/>
<polyline points="349.4,273.8 349.4,296.2 314.86,327.1 314.86,349.5" fill="none" stroke="#555" stroke-width="1"/>
<polyline points="366.4,273.8 366.4,296.2 331.82,327.1 331.82,349.5" fill="none" stroke="#555" stroke-width="1"/>
<polyline points="383.4,273.8 383.4,296.2 348.78,327.1 348.78,349.5" fill="none" stroke="#555" stroke-width="1"/>
<line x1="213" y1="273.6" x2="213" y2="349.5" stroke="#555" stroke-width="1"/>
<polyline points="247.5,273.6 247.5,296.2 230.06,327.1 230.06,349.5" fill="none" stroke="#555" stroke-width="1"/>
<rect x="100.5" y="341.7" width="463.8" height="21.6" fill="none" stroke="#333" stroke-width="1.4"/>
<circle cx="111.34" cy="352.3" r="2.9" fill="none" stroke="#aaa" stroke-width="0.7"/>
<line x1="110.03" y1="354.04" x2="112.65" y2="350.56" stroke="#bbb" stroke-width="0.6"/>
<text x="111.34" y="362.4" font-size="6.6" font-weight="bold" text-anchor="middle">4</text>
<circle cx="128.3" cy="352.3" r="2.9" fill="none" stroke="#aaa" stroke-width="0.7"/>
<line x1="127" y1="354.04" x2="129.61" y2="350.56" stroke="#bbb" stroke-width="0.6"/>
<text x="128.3" y="362.4" font-size="6.6" font-weight="bold" text-anchor="middle">5</text>
<circle cx="145.26" cy="352.3" r="2.9" fill="none" stroke="#aaa" stroke-width="0.7"/>
<line x1="143.95" y1="354.04" x2="146.56" y2="350.56" stroke="#bbb" stroke-width="0.6"/>
<text x="145.26" y="362.4" font-size="6.6" font-weight="bold" text-anchor="middle">6</text>
<circle cx="162.22" cy="352.3" r="2.9" fill="none" stroke="#aaa" stroke-width="0.7"/>
<line x1="160.91" y1="354.04" x2="163.53" y2="350.56" stroke="#bbb" stroke-width="0.6"/>
<text x="162.22" y="362.4" font-size="6.6" font-weight="bold" text-anchor="middle">7</text>
<circle cx="179.18" cy="352.3" r="2.9" fill="none" stroke="#aaa" stroke-width="0.7"/>
<line x1="177.88" y1="354.04" x2="180.49" y2="350.56" stroke="#bbb" stroke-width="0.6"/>
<text x="179.18" y="362.4" font-size="6.6" font-weight="bold" text-anchor="middle">8</text>
<circle cx="196.14" cy="352.3" r="2.9" fill="none" stroke="#aaa" stroke-width="0.7"/>
<line x1="194.84" y1="354.04" x2="197.45" y2="350.56" stroke="#bbb" stroke-width="0.6"/>
<text x="196.14" y="362.4" font-size="6.6" font-weight="bold" text-anchor="middle">9</text>
<circle cx="213.1" cy="352.3" r="2.9" fill="none" stroke="#aaa" stroke-width="0.7"/>
<line x1="211.8" y1="354.04" x2="214.41" y2="350.56" stroke="#bbb" stroke-width="0.6"/>
<text x="213.1" y="362.4" font-size="6.6" font-weight="bold" text-anchor="middle">10</text>
<circle cx="230.06" cy="352.3" r="2.9" fill="none" stroke="#aaa" stroke-width="0.7"/>
<line x1="228.75" y1="354.04" x2="231.37" y2="350.56" stroke="#bbb" stroke-width="0.6"/>
<text x="230.06" y="362.4" font-size="6.6" font-weight="bold" text-anchor="middle">11</text>
<circle cx="247.02" cy="352.3" r="2.9" fill="none" stroke="#aaa" stroke-width="0.7"/>
<line x1="245.72" y1="354.04" x2="248.33" y2="350.56" stroke="#bbb" stroke-width="0.6"/>
<text x="247.02" y="362.4" font-size="6.6" font-weight="bold" text-anchor="middle">12</text>
<circle cx="263.98" cy="352.3" r="2.9" fill="none" stroke="#aaa" stroke-width="0.7"/>
<line x1="262.68" y1="354.04" x2="265.29" y2="350.56" stroke="#bbb" stroke-width="0.6"/>
<text x="263.98" y="362.4" font-size="6.6" font-weight="bold" text-anchor="middle">13</text>
<circle cx="280.94" cy="352.3" r="2.9" fill="none" stroke="#aaa" stroke-width="0.7"/>
<line x1="279.63" y1="354.04" x2="282.25" y2="350.56" stroke="#bbb" stroke-width="0.6"/>
<text x="280.94" y="362.4" font-size="6.6" font-weight="bold" text-anchor="middle">14</text>
<circle cx="297.9" cy="352.3" r="2.9" fill="none" stroke="#aaa" stroke-width="0.7"/>
<line x1="296.59" y1="354.04" x2="299.2" y2="350.56" stroke="#bbb" stroke-width="0.6"/>
<text x="297.9" y="362.4" font-size="6.6" font-weight="bold" text-anchor="middle">15</text>
<circle cx="314.86" cy="352.3" r="2.9" fill="none" stroke="#aaa" stroke-width="0.7"/>
<line x1="313.56" y1="354.04" x2="316.17" y2="350.56" stroke="#bbb" stroke-width="0.6"/>
<text x="314.86" y="362.4" font-size="6.6" font-weight="bold" text-anchor="middle">16</text>
<circle cx="331.82" cy="352.3" r="2.9" fill="none" stroke="#aaa" stroke-width="0.7"/>
<line x1="330.51" y1="354.04" x2="333.12" y2="350.56" stroke="#bbb" stroke-width="0.6"/>
<text x="331.82" y="362.4" font-size="6.6" font-weight="bold" text-anchor="middle">17</text>
<circle cx="348.78" cy="352.3" r="2.9" fill="none" stroke="#aaa" stroke-width="0.7"/>
<line x1="347.48" y1="354.04" x2="350.09" y2="350.56" stroke="#bbb" stroke-width="0.6"/>
<text x="348.78" y="362.4" font-size="6.6" font-weight="bold" text-anchor="middle">18</text>
<circle cx="365.74" cy="352.3" r="2.9" fill="none" stroke="#aaa" stroke-width="0.7"/>
<line x1="364.44" y1="354.04" x2="367.05" y2="350.56" stroke="#bbb" stroke-width="0.6"/>
<text x="365.74" y="362.4" font-size="6.6" font-weight="bold" text-anchor="middle">19</text>
<circle cx="382.7" cy="352.3" r="2.9" fill="none" stroke="#aaa" stroke-width="0.7"/>
<line x1="381.4" y1="354.04" x2="384.01" y2="350.56" stroke="#bbb" stroke-width="0.6"/>
<text x="382.7" y="362.4" font-size="6.6" font-weight="bold" text-anchor="middle">20</text>
<circle cx="399.66" cy="352.3" r="2.9" fill="none" stroke="#aaa" stroke-width="0.7"/>
<line x1="398.36" y1="354.04" x2="400.97" y2="350.56" stroke="#bbb" stroke-width="0.6"/>
<text x="399.66" y="362.4" font-size="6.6" font-weight="bold" text-anchor="middle">21</text>
<circle cx="416.62" cy="352.3" r="2.9" fill="none" stroke="#aaa" stroke-width="0.7"/>
<line x1="415.31" y1="354.04" x2="417.93" y2="350.56" stroke="#bbb" stroke-width="0.6"/>
<text x="416.62" y="362.4" font-size="6.6" font-weight="bold" text-anchor="middle">22</text>
<circle cx="433.58" cy="352.3" r="2.9" fill="none" stroke="#aaa" stroke-width="0.7"/>
<line x1="432.28" y1="354.04" x2="434.89" y2="350.56" stroke="#bbb" stroke-width="0.6"/>
<text x="433.58" y="362.4" font-size="6.6" font-weight="bold" text-anchor="middle">23</text>
<circle cx="450.54" cy="352.3" r="2.9" fill="none" stroke="#aaa" stroke-width="0.7"/>
<line x1="449.24" y1="354.04" x2="451.85" y2="350.56" stroke="#bbb" stroke-width="0.6"/>
<text x="450.54" y="362.4" font-size="6.6" font-weight="bold" text-anchor="middle">24</text>
<circle cx="467.5" cy="352.3" r="2.9" fill="none" stroke="#aaa" stroke-width="0.7"/>
<line x1="466.19" y1="354.04" x2="468.81" y2="350.56" stroke="#bbb" stroke-width="0.6"/>
<text x="467.5" y="362.4" font-size="6.6" font-weight="bold" text-anchor="middle">25</text>
<circle cx="484.46" cy="352.3" r="2.9" fill="none" stroke="#aaa" stroke-width="0.7"/>
<line x1="483.16" y1="354.04" x2="485.77" y2="350.56" stroke="#bbb" stroke-width="0.6"/>
<text x="484.46" y="362.4" font-size="6.6" font-weight="bold" text-anchor="middle">26</text>
<circle cx="501.42" cy="352.3" r="2.9" fill="none" stroke="#aaa" stroke-width="0.7"/>
<line x1="500.12" y1="354.04" x2="502.73" y2="350.56" stroke="#bbb" stroke-width="0.6"/>
<text x="501.42" y="362.4" font-size="6.6" font-weight="bold" text-anchor="middle">27</text>
<circle cx="518.38" cy="352.3" r="2.9" fill="none" stroke="#aaa" stroke-width="0.7"/>
<line x1="517.08" y1="354.04" x2="519.68" y2="350.56" stroke="#bbb" stroke-width="0.6"/>
<text x="518.38" y="362.4" font-size="6.6" font-weight="bold" text-anchor="middle">28</text>
<circle cx="535.34" cy="352.3" r="2.9" fill="none" stroke="#aaa" stroke-width="0.7"/>
<line x1="534.04" y1="354.04" x2="536.64" y2="350.56" stroke="#bbb" stroke-width="0.6"/>
<text x="535.34" y="362.4" font-size="6.6" font-weight="bold" text-anchor="middle">29</text>
<circle cx="552.3" cy="352.3" r="2.9" fill="none" stroke="#aaa" stroke-width="0.7"/>
<line x1="551" y1="354.04" x2="553.6" y2="350.56" stroke="#bbb" stroke-width="0.6"/>
<text x="552.3" y="362.4" font-size="6.6" font-weight="bold" text-anchor="middle">30</text>
<polyline points="111.34,349 114.34,330 125.3,330 128.3,349" fill="none" stroke="#111" stroke-width="1.6"/>
<line x1="120.12" y1="322.6" x2="120.12" y2="326.6" stroke="#111" stroke-width="1.2"/>
<line x1="121.85" y1="323.6" x2="118.39" y2="325.6" stroke="#111" stroke-width="1.2"/>
<line x1="121.85" y1="325.6" x2="118.39" y2="323.6" stroke="#111" stroke-width="1.2"/>
<circle cx="120.12" cy="324.6" r="1.6" fill="#111" stroke="#111" stroke-width="0"/>
<polyline points="213.4,349 214.7,338.6 217.1,333.5 226.06,333.5 228.46,338.6 229.76,349" fill="none" stroke="#222" stroke-width="1"/>
<line x1="214.7" y1="338.6" x2="228.46" y2="338.6" stroke="#222" stroke-width="1"/>
<line x1="216.1" y1="336.31" x2="227.06" y2="336.31" stroke="#444" stroke-width="0.8"/>
<line x1="281.94" y1="349" x2="318" y2="336.5" stroke="#222" stroke-width="1.1" stroke-dasharray="4,3"/>
<rect x="320" y="334" width="8" height="4.2" fill="#fff" stroke="#222" stroke-width="1"/>
<line x1="328" y1="336.1" x2="331.82" y2="338.3" stroke="#222" stroke-width="0.9"/>
<line x1="331.82" y1="338.3" x2="348.78" y2="349" stroke="#222" stroke-width="1.1" stroke-dasharray="4,3"/>
<polygon points="362.54,340.6 368.94,340.6 365.74,334.4" fill="#111" stroke="none" stroke-width="0"/>
<line x1="365.74" y1="340.3" x2="365.74" y2="349.3" stroke="#555" stroke-width="0.9"/>
<polygon points="379.5,340.6 385.9,340.6 382.7,334.4" fill="#111" stroke="none" stroke-width="0"/>
<line x1="382.7" y1="340.3" x2="382.7" y2="349.3" stroke="#555" stroke-width="0.9"/>
<polygon points="396.46,340.6 402.86,340.6 399.66,334.4" fill="#111" stroke="none" stroke-width="0"/>
<line x1="399.66" y1="340.3" x2="399.66" y2="349.3" stroke="#555" stroke-width="0.9"/>
<polygon points="413.42,340.6 419.82,340.6 416.62,334.4" fill="#111" stroke="none" stroke-width="0"/>
<line x1="416.62" y1="340.3" x2="416.62" y2="349.3" stroke="#555" stroke-width="0.9"/>
<text x="364" y="330.5" font-size="6.4" font-weight="bold" textLength="21.2" lengthAdjust="spacingAndGlyphs">ALARM</text>
<text x="397.9" y="330.5" font-size="6.4" font-weight="bold" textLength="23.6" lengthAdjust="spacingAndGlyphs">AWARIA</text>
<polyline points="485.46,349.5 495.96,330.4 505.96,330.4 517.38,349.5" fill="none" stroke="#222" stroke-width="1.1" stroke-dasharray="4,2.5"/>
<line x1="486.46" y1="343" x2="500.42" y2="349" stroke="#222" stroke-width="1" stroke-dasharray="3,2.5"/>
<polyline points="535.64,349 536.94,339 539.34,333.6 548.3,333.6 550.7,339 552,349" fill="none" stroke="#222" stroke-width="1"/>
<line x1="536.94" y1="339" x2="550.7" y2="339" stroke="#222" stroke-width="1"/>
<line x1="538.34" y1="336.57" x2="549.3" y2="336.57" stroke="#444" stroke-width="0.8"/>
<text x="105.5" y="374.8" font-size="7" font-weight="bold" textLength="34.3" lengthAdjust="spacingAndGlyphs">ZWORA NA</text>
<text x="98.2" y="383.5" font-size="7" font-weight="bold" textLength="48.6" lengthAdjust="spacingAndGlyphs">ZACISKACH 4, 5</text>
<text x="190.1" y="372.9" font-size="6.9" font-weight="bold" textLength="63.3" lengthAdjust="spacingAndGlyphs">Rezystor 4k7&#160;&#160;na 10, 11</text>
<text x="187" y="380.4" font-size="6.9" font-weight="bold" textLength="69.9" lengthAdjust="spacingAndGlyphs">gdy nie ma czujki dymu</text>
<text x="278.8" y="372" font-size="6.9" font-weight="bold" textLength="65" lengthAdjust="spacingAndGlyphs">Rezystor 6k2&#160;&#160;na 14, 18</text>
<text x="288" y="380.5" font-size="6.9" font-weight="bold" textLength="47.5" lengthAdjust="spacingAndGlyphs">gdy nie ma RPO</text>
<text x="365.7" y="373.1" font-size="6.9" font-weight="bold" textLength="53.8" lengthAdjust="spacingAndGlyphs">Styki 0,5A/24VDC</text>
<text x="367.9" y="380.8" font-size="6.9" font-weight="bold" textLength="49.5" lengthAdjust="spacingAndGlyphs">(NO, NC lub Vds)</text>
<text x="436.7" y="373.1" font-size="6.9" font-weight="bold" textLength="73.6" lengthAdjust="spacingAndGlyphs">Zwora na 26, 27 i 26, 28</text>
<text x="436.7" y="380.4" font-size="6.9" font-weight="bold" textLength="69.9" lengthAdjust="spacingAndGlyphs">gdy nie ma&#160;&#160;krańcówek</text>
<text x="516.3" y="373.1" font-size="6.9" font-weight="bold" textLength="47.3" lengthAdjust="spacingAndGlyphs">Rezystor 4k7&#160;&#160;na</text>
<text x="516.3" y="380.4" font-size="6.9" font-weight="bold" textLength="53.7" lengthAdjust="spacingAndGlyphs">29, 30 gdy nie ma</text>
<text x="516.3" y="388.8" font-size="6.9" font-weight="bold" textLength="10.7" lengthAdjust="spacingAndGlyphs">CSP</text>
<rect x="419.8" y="228.4" width="60.8" height="45.4" fill="none" stroke="#333" stroke-width="1.3"/>
<text x="423.6" y="234.6" font-size="6.9" font-weight="bold" textLength="54.2" lengthAdjust="spacingAndGlyphs">Czujnik pogodowy</text>
<text x="441.5" y="242.9" font-size="6.9" font-weight="bold" textLength="20.5" lengthAdjust="spacingAndGlyphs">CDW-3</text>
<text x="426.6" y="252.3" font-size="6.9" font-weight="bold" textLength="15.5" lengthAdjust="spacingAndGlyphs">+24V</text>
<text x="446.1" y="252.3" font-size="6.9" font-weight="bold" textLength="12.6" lengthAdjust="spacingAndGlyphs">D/W</text>
<text x="462.9" y="252.3" font-size="6.9" font-weight="bold" textLength="13.2" lengthAdjust="spacingAndGlyphs">GND</text>
<circle cx="433.6" cy="257.3" r="2.8" fill="none" stroke="#aaa" stroke-width="0.7"/>
<line x1="432.34" y1="258.98" x2="434.86" y2="255.62" stroke="#bbb" stroke-width="0.6"/>
<text x="433.6" y="269.6" font-size="7.2" font-weight="bold" text-anchor="middle">1</text>
<circle cx="450.5" cy="257.3" r="2.8" fill="none" stroke="#aaa" stroke-width="0.7"/>
<line x1="449.24" y1="258.98" x2="451.76" y2="255.62" stroke="#bbb" stroke-width="0.6"/>
<text x="450.5" y="269.6" font-size="7.2" font-weight="bold" text-anchor="middle">2</text>
<circle cx="468.3" cy="257.3" r="2.8" fill="none" stroke="#aaa" stroke-width="0.7"/>
<line x1="467.04" y1="258.98" x2="469.56" y2="255.62" stroke="#bbb" stroke-width="0.6"/>
<text x="468.3" y="269.6" font-size="7.2" font-weight="bold" text-anchor="middle">3</text>
<line x1="433.58" y1="274" x2="433.58" y2="349.3" stroke="#555" stroke-width="1"/>
<line x1="450.54" y1="274" x2="450.54" y2="349.3" stroke="#555" stroke-width="1"/>
<line x1="467.5" y1="274" x2="467.5" y2="349.3" stroke="#555" stroke-width="1"/>
<text x="483.3" y="152.2" font-size="7.5" font-weight="bold" textLength="40" lengthAdjust="spacingAndGlyphs">Krańcówki:</text>
<text x="491.3" y="159.3" font-size="4.6" font-weight="bold" textLength="23.7" lengthAdjust="spacingAndGlyphs">(styki NO)</text>
<text x="487.8" y="176.5" font-size="6.8" font-weight="bold" textLength="34.8" lengthAdjust="spacingAndGlyphs">Zamknięcie</text>
<text x="439" y="204.8" font-size="6.8" font-weight="bold" textLength="42.2" lengthAdjust="spacingAndGlyphs">Potwierdzenie</text>
<text x="456.4" y="213.7" font-size="6.8" font-weight="bold" textLength="24.8" lengthAdjust="spacingAndGlyphs">otwarcia</text>
<line x1="485.16" y1="184.3" x2="485.16" y2="349.3" stroke="#555" stroke-width="1"/>
<line x1="485.56" y1="184.3" x2="495.96" y2="179.9" stroke="#111" stroke-width="1.4"/>
<circle cx="490.16" cy="180.6" r="1" fill="none" stroke="#aaa" stroke-width="0.5"/>
<polyline points="494.76,182 496.46,184.1 518.38,184.1 518.38,349.3" fill="none" stroke="#555" stroke-width="1"/>
<line x1="485.56" y1="211.9" x2="495.96" y2="207.6" stroke="#111" stroke-width="1.4"/>
<circle cx="490.16" cy="208.3" r="1" fill="none" stroke="#aaa" stroke-width="0.5"/>
<polyline points="494.76,209.7 496.46,211.8 501.42,211.8 501.42,349.3" fill="none" stroke="#555" stroke-width="1"/>
<text x="520.3" y="206.3" font-size="6.6" font-weight="bold" textLength="51.9" lengthAdjust="spacingAndGlyphs">Sygnał alarmowy</text>
<text x="528.5" y="214.6" font-size="6.6" font-weight="bold" textLength="35.5" lengthAdjust="spacingAndGlyphs">z CSP (SAP)</text>
<rect x="530" y="218" width="28.6" height="56" fill="none" stroke="#333" stroke-width="1.3"/>
<text x="537.5" y="225.4" font-size="6.8" font-weight="bold" textLength="11.5" lengthAdjust="spacingAndGlyphs">SAP</text>
<text x="533" y="232" font-size="4.6" font-weight="bold" textLength="22.7" lengthAdjust="spacingAndGlyphs">(styk NO)</text>
<line x1="536.6" y1="242.5" x2="545.8" y2="236.8" stroke="#111" stroke-width="1.1"/>
<polyline points="546.6,239 549,239 553,239 553,274" fill="none" stroke="#555" stroke-width="0.8"/>
<line x1="536.6" y1="242.5" x2="536.6" y2="246.8" stroke="#555" stroke-width="0.8"/>
<rect x="534.4" y="246.8" width="4" height="9.2" fill="#fff" stroke="#333" stroke-width="0.8"/>
<line x1="536.6" y1="256" x2="536.6" y2="274" stroke="#555" stroke-width="0.8"/>
<text x="544" y="249.4" font-size="5" font-weight="bold" text-anchor="middle">R</text>
<text x="540.8" y="256.4" font-size="5" font-weight="bold" textLength="8.2" lengthAdjust="spacingAndGlyphs">680</text>
<text x="540.8" y="263.8" font-size="5" font-weight="bold" textLength="9.9" lengthAdjust="spacingAndGlyphs">4,7k</text>
<rect x="540" y="266" width="9.2" height="4.2" fill="#fff" stroke="#333" stroke-width="0.9"/>
<line x1="536.6" y1="268.1" x2="540" y2="268.1" stroke="#333" stroke-width="0.8"/>
<line x1="549.2" y1="268.1" x2="553" y2="268.1" stroke="#333" stroke-width="0.8"/>
<circle cx="536.6" cy="268.1" r="0.8" fill="#111" stroke="#111" stroke-width="0"/>
<circle cx="553" cy="268.1" r="0.8" fill="#111" stroke="#111" stroke-width="0"/>
<line x1="535.84" y1="274" x2="535.84" y2="349.3" stroke="#555" stroke-width="1"/>
<line x1="552.3" y1="274" x2="552.3" y2="349.3" stroke="#555" stroke-width="1"/>
<text x="402.8" y="28.1" font-size="13.8" font-weight="bold" textLength="55.5" lengthAdjust="spacingAndGlyphs" style="stroke:#111;stroke-width:0.32px">MASTER</text>
<text x="402.8" y="47" font-size="13.8" font-weight="bold" textLength="117.7" lengthAdjust="spacingAndGlyphs" style="stroke:#111;stroke-width:0.32px">1 LINIA - 1 GRUPA</text>
<polyline points="548.8,18.4 557.9,18.4" fill="none" stroke="#222" stroke-width="1.4"/>
<polyline points="548.8,27 557.9,27 557.9,8.8 625.6,8.8 625.6,27 619.6,27" fill="none" stroke="#222" stroke-width="1.4"/>
<line x1="619.6" y1="18.4" x2="625.6" y2="18.4" stroke="#222" stroke-width="1.4"/>
<circle cx="547" cy="18.4" r="2" fill="#eee" stroke="#aaa" stroke-width="0.7"/>
<circle cx="547" cy="26.8" r="2" fill="#eee" stroke="#aaa" stroke-width="0.7"/>
<circle cx="617.5" cy="18.4" r="2" fill="#eee" stroke="#aaa" stroke-width="0.7"/>
<circle cx="617.5" cy="26.8" r="2" fill="#eee" stroke="#aaa" stroke-width="0.7"/>
<text x="0" y="0" font-size="10" font-weight="bold" transform="translate(540.8,53.3) rotate(-90)" textLength="35" lengthAdjust="spacingAndGlyphs">RS-485</text>
<text x="0" y="0" font-size="8.6" font-weight="bold" transform="translate(612.9,47.0) rotate(-90)" textLength="29" lengthAdjust="spacingAndGlyphs">RS-485</text>
<rect x="585.8" y="3.6" width="435.2" height="390.2" fill="none" stroke="#666" stroke-width="1.4"/>
<text x="713.3" y="26.9" font-size="16.3" font-weight="bold" textLength="59.9" lengthAdjust="spacingAndGlyphs" style="stroke:#111;stroke-width:0.32px">SLAVE 01</text>
<text x="713.6" y="46.6" font-size="16.3" font-weight="bold" textLength="93.4" lengthAdjust="spacingAndGlyphs" style="stroke:#111;stroke-width:0.32px">moduł 2004P</text>
<rect x="857.4" y="15.4" width="157.3" height="50.6" fill="none" stroke="#999" stroke-width="0.9"/>
<text class="r" x="863.2" y="27.2" font-size="9.6" textLength="105.8" lengthAdjust="spacingAndGlyphs">ZWORA J5 - tryb pracy <tspan font-weight="bold">P2</tspan></text>
<rect x="863.2" y="33.2" width="35.8" height="18.3" fill="none" stroke="#333" stroke-width="1"/>
<line x1="870.5" y1="42.3" x2="891.3" y2="42.3" stroke="#111" stroke-width="1.8"/>
<circle cx="870.5" cy="42.3" r="3.7" fill="#111" stroke="#111" stroke-width="0"/>
<circle cx="891.3" cy="42.3" r="3.7" fill="#111" stroke="#111" stroke-width="0"/>
<text x="905.6" y="40" font-size="9.8" class="r" textLength="71.8" lengthAdjust="spacingAndGlyphs">ZWARCIE- ALARM</text>
<text x="905.6" y="51.5" font-size="9.8" class="r" textLength="102.4" lengthAdjust="spacingAndGlyphs">ROZWARCIE - TRZYMACZ</text>
<text x="963.5" y="63.2" font-size="9.8" class="r" textLength="44.5" lengthAdjust="spacingAndGlyphs">DRZWIOWY</text>
<text x="604.8" y="104.6" font-size="9.5" class="r" text-anchor="middle">*</text>
<text x="609.4" y="105.9" font-size="9.5" class="r" textLength="187.5" lengthAdjust="spacingAndGlyphs">ZWORA NA K1, K2 GDY BRAK POTWIERDZENIA</text>
<text x="695.4" y="123.1" font-size="9.5" class="r" textLength="65.6" lengthAdjust="spacingAndGlyphs">POTWIERDZENIE</text>
<text class="r" x="693" y="134.9" font-size="9.5" textLength="69.2" lengthAdjust="spacingAndGlyphs">ZADZIAŁANIA <tspan font-weight="bold">P2</tspan></text>
<text x="708.4" y="145.6" font-size="9.5" class="r" textLength="39.6" lengthAdjust="spacingAndGlyphs">(STYK NO)</text>
<text x="641.8" y="195.4" font-size="9.5" class="r" textLength="65" lengthAdjust="spacingAndGlyphs">POTWIERDZENIE</text>
<text class="r" x="640" y="207.4" font-size="9.5" textLength="68" lengthAdjust="spacingAndGlyphs">ZADZIAŁANIA <tspan font-weight="bold">P1</tspan></text>
<text x="654.8" y="218.9" font-size="9.5" class="r" textLength="39" lengthAdjust="spacingAndGlyphs">(STYK NO)</text>
<line x1="713.8" y1="169.7" x2="713.8" y2="350" stroke="#555" stroke-width="1"/>
<line x1="715.2" y1="169" x2="735.5" y2="162.4" stroke="#111" stroke-width="1.4"/>
<circle cx="714.4" cy="169.4" r="1" fill="#fff" stroke="#555" stroke-width="0.6"/>
<circle cx="725" cy="163.6" r="1.3" fill="none" stroke="#aaa" stroke-width="0.5"/>
<polyline points="735.5,171.3 739.48,171.3 739.48,350" fill="none" stroke="#555" stroke-width="1"/>
<circle cx="735.5" cy="171.3" r="0.9" fill="#111" stroke="#111" stroke-width="0"/>
<line x1="661.64" y1="243.5" x2="661.64" y2="350" stroke="#555" stroke-width="1"/>
<line x1="663.84" y1="242.5" x2="684.2" y2="236.5" stroke="#111" stroke-width="1.4"/>
<circle cx="663.04" cy="243.2" r="1" fill="#fff" stroke="#555" stroke-width="0.6"/>
<circle cx="673" cy="237.6" r="1.3" fill="none" stroke="#aaa" stroke-width="0.5"/>
<polyline points="684.2,245.8 688.12,245.8 688.12,350" fill="none" stroke="#555" stroke-width="1"/>
<circle cx="684.2" cy="245.8" r="0.9" fill="#111" stroke="#111" stroke-width="0"/>
<text x="789.2" y="159" font-size="9.3" class="r" textLength="81.6" lengthAdjust="spacingAndGlyphs">WEJŚCIE K3 - OPCJA</text>
<text x="775.2" y="170.4" font-size="9.3" class="r" textLength="109.9" lengthAdjust="spacingAndGlyphs">(dodatkowe potwierdzenie</text>
<text x="800.6" y="181.4" font-size="9.3" class="r" textLength="61.7" lengthAdjust="spacingAndGlyphs">z parametrem)</text>
<text x="812.7" y="193.1" font-size="9.3" class="r" textLength="34.3" lengthAdjust="spacingAndGlyphs">STYK NO</text>
<line x1="816.92" y1="205.2" x2="836.6" y2="197.8" stroke="#111" stroke-width="1.4"/>
<circle cx="816.52" cy="205.6" r="1" fill="#fff" stroke="#555" stroke-width="0.6"/>
<circle cx="826" cy="200" r="1.3" fill="none" stroke="#aaa" stroke-width="0.5"/>
<circle cx="838.6" cy="206.7" r="0.9" fill="#111" stroke="#111" stroke-width="0"/>
<polyline points="838.6,206.7 842.6,206.7 842.6,350" fill="none" stroke="#555" stroke-width="1"/>
<line x1="816.52" y1="206.5" x2="816.52" y2="214.4" stroke="#555" stroke-width="1"/>
<rect x="812.92" y="214.4" width="7.2" height="14.2" fill="#fff" stroke="#222" stroke-width="1.2"/>
<text x="785.7" y="225.9" font-size="9.5" class="r" textLength="20" lengthAdjust="spacingAndGlyphs">680R</text>
<line x1="816.52" y1="228.6" x2="816.52" y2="350" stroke="#555" stroke-width="1"/>
<rect x="822.7" y="242.5" width="13.9" height="5.3" fill="#fff" stroke="#222" stroke-width="1.2"/>
<line x1="816.52" y1="245.1" x2="822.7" y2="245.1" stroke="#222" stroke-width="1"/>
<line x1="836.6" y1="245.1" x2="842.6" y2="245.1" stroke="#222" stroke-width="1"/>
<circle cx="816.52" cy="245.1" r="1.1" fill="#111" stroke="#111" stroke-width="0"/>
<circle cx="842.6" cy="245.1" r="1.1" fill="#111" stroke="#111" stroke-width="0"/>
<text x="822.3" y="261.6" font-size="9.5" class="r" textLength="15" lengthAdjust="spacingAndGlyphs">4k7</text>
<text x="931.5" y="206.8" font-size="9.5" class="r" textLength="81.5" lengthAdjust="spacingAndGlyphs">STYKI PRZEKAŹNIKA</text>
<text x="939.2" y="218" font-size="9.5" font-weight="bold" textLength="10" lengthAdjust="spacingAndGlyphs">P2</text>
<text x="952.8" y="218" font-size="9.5" class="r" textLength="52.6" lengthAdjust="spacingAndGlyphs">(230VAC/8A)</text>
<line x1="938.72" y1="240.4" x2="951.12" y2="240.4" stroke="#111" stroke-width="2.3"/>
<polygon points="939.02,249.9 950.82,249.9 944.92,241.2" fill="#111" stroke="none" stroke-width="0"/>
<line x1="944.92" y1="249.4" x2="944.92" y2="349.8" stroke="#111" stroke-width="3"/>
<line x1="964.4" y1="240.4" x2="976.8" y2="240.4" stroke="#111" stroke-width="2.3"/>
<polygon points="964.7,249.9 976.5,249.9 970.6,241.2" fill="#111" stroke="none" stroke-width="0"/>
<line x1="970.6" y1="249.4" x2="970.6" y2="349.8" stroke="#111" stroke-width="3"/>
<line x1="990.08" y1="240.4" x2="1002.48" y2="240.4" stroke="#111" stroke-width="2.3"/>
<polygon points="990.38,249.9 1002.18,249.9 996.28,241.2" fill="#111" stroke="none" stroke-width="0"/>
<line x1="996.28" y1="249.4" x2="996.28" y2="349.8" stroke="#111" stroke-width="3"/>
<text x="939.8" y="237" font-size="9.5" class="r" textLength="11.8" lengthAdjust="spacingAndGlyphs">NC</text>
<text x="961" y="237" font-size="9.5" class="r" textLength="20.7" lengthAdjust="spacingAndGlyphs">COM</text>
<text x="990.6" y="237" font-size="9.5" class="r" textLength="13" lengthAdjust="spacingAndGlyphs">NO</text>
<text x="852.7" y="282" font-size="9.5" class="r" textLength="81.6" lengthAdjust="spacingAndGlyphs">STYKI PRZEKAŹNIKA</text>
<text x="861.6" y="294" font-size="9.5" font-weight="bold" textLength="8.9" lengthAdjust="spacingAndGlyphs">P1</text>
<text x="873.4" y="294" font-size="9.5" class="r" textLength="53.2" lengthAdjust="spacingAndGlyphs">(230VAC/8A)</text>
<line x1="861.68" y1="315.8" x2="874.08" y2="315.8" stroke="#111" stroke-width="2.3"/>
<polygon points="861.98,325.3 873.78,325.3 867.88,316.6" fill="#111" stroke="none" stroke-width="0"/>
<line x1="867.88" y1="324.8" x2="867.88" y2="349.8" stroke="#111" stroke-width="3"/>
<line x1="887.36" y1="315.8" x2="899.76" y2="315.8" stroke="#111" stroke-width="2.3"/>
<polygon points="887.66,325.3 899.46,325.3 893.56,316.6" fill="#111" stroke="none" stroke-width="0"/>
<line x1="893.56" y1="324.8" x2="893.56" y2="349.8" stroke="#111" stroke-width="3"/>
<line x1="913.04" y1="315.8" x2="925.44" y2="315.8" stroke="#111" stroke-width="2.3"/>
<polygon points="913.34,325.3 925.14,325.3 919.24,316.6" fill="#111" stroke="none" stroke-width="0"/>
<line x1="919.24" y1="324.8" x2="919.24" y2="349.8" stroke="#111" stroke-width="3"/>
<text x="861" y="312.7" font-size="9.5" class="r" textLength="13" lengthAdjust="spacingAndGlyphs">NC</text>
<text x="882.9" y="312.7" font-size="9.5" class="r" textLength="20.4" lengthAdjust="spacingAndGlyphs">COM</text>
<text x="912.4" y="312.7" font-size="9.5" class="r" textLength="13.6" lengthAdjust="spacingAndGlyphs">NO</text>
<text x="607.8" y="292.8" font-size="9.5" class="r" textLength="33" lengthAdjust="spacingAndGlyphs">WYJŚCIE</text>
<text x="603.9" y="304.4" font-size="9.5" class="r" textLength="41.8" lengthAdjust="spacingAndGlyphs">24VDC/1A</text>
<line x1="604.88" y1="315.6" x2="617.28" y2="315.6" stroke="#111" stroke-width="2.3"/>
<polygon points="605.18,325.1 616.98,325.1 611.08,316.4" fill="#111" stroke="none" stroke-width="0"/>
<line x1="611.08" y1="324.6" x2="611.08" y2="349.8" stroke="#111" stroke-width="3"/>
<line x1="630.56" y1="315.6" x2="642.96" y2="315.6" stroke="#111" stroke-width="2.3"/>
<polygon points="630.86,325.1 642.66,325.1 636.76,316.4" fill="#111" stroke="none" stroke-width="0"/>
<line x1="636.76" y1="324.6" x2="636.76" y2="349.8" stroke="#111" stroke-width="3"/>
<line x1="667.84" y1="329.4" x2="665.44" y2="335.5" stroke="#111" stroke-width="1.4"/>
<line x1="663.54" y1="343" x2="662.14" y2="347.8" stroke="#111" stroke-width="1.4"/>
<line x1="674.44" y1="328.2" x2="681.04" y2="328.2" stroke="#111" stroke-width="1.4"/>
<line x1="683.42" y1="335" x2="685.72" y2="340.2" stroke="#111" stroke-width="1.4"/>
<line x1="675.34" y1="317.6" x2="675.34" y2="321.4" stroke="#111" stroke-width="1.2"/>
<line x1="676.99" y1="318.55" x2="673.69" y2="320.45" stroke="#111" stroke-width="1.2"/>
<line x1="676.99" y1="320.45" x2="673.69" y2="318.55" stroke="#111" stroke-width="1.2"/>
<circle cx="675.34" cy="319.5" r="1.52" fill="#111" stroke="#111" stroke-width="0"/>
<line x1="719.2" y1="329.4" x2="716.8" y2="335.5" stroke="#111" stroke-width="1.4"/>
<line x1="714.9" y1="343" x2="713.5" y2="347.8" stroke="#111" stroke-width="1.4"/>
<line x1="725.8" y1="328.2" x2="732.4" y2="328.2" stroke="#111" stroke-width="1.4"/>
<line x1="734.78" y1="335" x2="737.08" y2="340.2" stroke="#111" stroke-width="1.4"/>
<line x1="726.7" y1="317.6" x2="726.7" y2="321.4" stroke="#111" stroke-width="1.2"/>
<line x1="728.35" y1="318.55" x2="725.05" y2="320.45" stroke="#111" stroke-width="1.2"/>
<line x1="728.35" y1="320.45" x2="725.05" y2="318.55" stroke="#111" stroke-width="1.2"/>
<circle cx="726.7" cy="319.5" r="1.52" fill="#111" stroke="#111" stroke-width="0"/>
<rect x="594.9" y="339.9" width="417.1" height="32.7" fill="none" stroke="#333" stroke-width="1.4"/>
<circle cx="611.08" cy="354.3" r="4.4" fill="none" stroke="#999" stroke-width="0.8"/>
<line x1="608.88" y1="356.72" x2="613.28" y2="351.88" stroke="#aaa" stroke-width="0.7"/>
<line x1="610.2" y1="357.6" x2="614.16" y2="353.2" stroke="#bbb" stroke-width="0.6"/>
<text x="611.08" y="370.4" font-size="10.5" font-weight="bold" text-anchor="middle">1</text>
<circle cx="636.76" cy="354.3" r="4.4" fill="none" stroke="#999" stroke-width="0.8"/>
<line x1="634.56" y1="356.72" x2="638.96" y2="351.88" stroke="#aaa" stroke-width="0.7"/>
<line x1="635.88" y1="357.6" x2="639.84" y2="353.2" stroke="#bbb" stroke-width="0.6"/>
<text x="636.76" y="370.4" font-size="10.5" font-weight="bold" text-anchor="middle">2</text>
<circle cx="662.44" cy="354.3" r="4.4" fill="none" stroke="#999" stroke-width="0.8"/>
<line x1="660.24" y1="356.72" x2="664.64" y2="351.88" stroke="#aaa" stroke-width="0.7"/>
<line x1="661.56" y1="357.6" x2="665.52" y2="353.2" stroke="#bbb" stroke-width="0.6"/>
<text x="662.44" y="370.4" font-size="10.5" font-weight="bold" text-anchor="middle">3</text>
<circle cx="688.12" cy="354.3" r="4.4" fill="none" stroke="#999" stroke-width="0.8"/>
<line x1="685.92" y1="356.72" x2="690.32" y2="351.88" stroke="#aaa" stroke-width="0.7"/>
<line x1="687.24" y1="357.6" x2="691.2" y2="353.2" stroke="#bbb" stroke-width="0.6"/>
<text x="688.12" y="370.4" font-size="10.5" font-weight="bold" text-anchor="middle">4</text>
<circle cx="713.8" cy="354.3" r="4.4" fill="none" stroke="#999" stroke-width="0.8"/>
<line x1="711.6" y1="356.72" x2="716" y2="351.88" stroke="#aaa" stroke-width="0.7"/>
<line x1="712.92" y1="357.6" x2="716.88" y2="353.2" stroke="#bbb" stroke-width="0.6"/>
<text x="713.8" y="370.4" font-size="10.5" font-weight="bold" text-anchor="middle">5</text>
<circle cx="739.48" cy="354.3" r="4.4" fill="none" stroke="#999" stroke-width="0.8"/>
<line x1="737.28" y1="356.72" x2="741.68" y2="351.88" stroke="#aaa" stroke-width="0.7"/>
<line x1="738.6" y1="357.6" x2="742.56" y2="353.2" stroke="#bbb" stroke-width="0.6"/>
<text x="739.48" y="370.4" font-size="10.5" font-weight="bold" text-anchor="middle">6</text>
<circle cx="765.16" cy="354.3" r="4.4" fill="none" stroke="#999" stroke-width="0.8"/>
<line x1="762.96" y1="356.72" x2="767.36" y2="351.88" stroke="#aaa" stroke-width="0.7"/>
<line x1="764.28" y1="357.6" x2="768.24" y2="353.2" stroke="#bbb" stroke-width="0.6"/>
<text x="765.16" y="370.4" font-size="10.5" font-weight="bold" text-anchor="middle">7</text>
<circle cx="790.84" cy="354.3" r="4.4" fill="none" stroke="#999" stroke-width="0.8"/>
<line x1="788.64" y1="356.72" x2="793.04" y2="351.88" stroke="#aaa" stroke-width="0.7"/>
<line x1="789.96" y1="357.6" x2="793.92" y2="353.2" stroke="#bbb" stroke-width="0.6"/>
<text x="790.84" y="370.4" font-size="10.5" font-weight="bold" text-anchor="middle">8</text>
<circle cx="816.52" cy="354.3" r="4.4" fill="none" stroke="#999" stroke-width="0.8"/>
<line x1="814.32" y1="356.72" x2="818.72" y2="351.88" stroke="#aaa" stroke-width="0.7"/>
<line x1="815.64" y1="357.6" x2="819.6" y2="353.2" stroke="#bbb" stroke-width="0.6"/>
<text x="816.52" y="370.4" font-size="10.5" font-weight="bold" text-anchor="middle">9</text>
<circle cx="842.2" cy="354.3" r="4.4" fill="none" stroke="#999" stroke-width="0.8"/>
<line x1="840" y1="356.72" x2="844.4" y2="351.88" stroke="#aaa" stroke-width="0.7"/>
<line x1="841.32" y1="357.6" x2="845.28" y2="353.2" stroke="#bbb" stroke-width="0.6"/>
<text x="842.2" y="370.4" font-size="10.5" font-weight="bold" text-anchor="middle">10</text>
<circle cx="867.88" cy="354.3" r="4.4" fill="none" stroke="#999" stroke-width="0.8"/>
<line x1="865.68" y1="356.72" x2="870.08" y2="351.88" stroke="#aaa" stroke-width="0.7"/>
<line x1="867" y1="357.6" x2="870.96" y2="353.2" stroke="#bbb" stroke-width="0.6"/>
<text x="867.88" y="370.4" font-size="10.5" font-weight="bold" text-anchor="middle">11</text>
<circle cx="893.56" cy="354.3" r="4.4" fill="none" stroke="#999" stroke-width="0.8"/>
<line x1="891.36" y1="356.72" x2="895.76" y2="351.88" stroke="#aaa" stroke-width="0.7"/>
<line x1="892.68" y1="357.6" x2="896.64" y2="353.2" stroke="#bbb" stroke-width="0.6"/>
<text x="893.56" y="370.4" font-size="10.5" font-weight="bold" text-anchor="middle">12</text>
<circle cx="919.24" cy="354.3" r="4.4" fill="none" stroke="#999" stroke-width="0.8"/>
<line x1="917.04" y1="356.72" x2="921.44" y2="351.88" stroke="#aaa" stroke-width="0.7"/>
<line x1="918.36" y1="357.6" x2="922.32" y2="353.2" stroke="#bbb" stroke-width="0.6"/>
<text x="919.24" y="370.4" font-size="10.5" font-weight="bold" text-anchor="middle">13</text>
<circle cx="944.92" cy="354.3" r="4.4" fill="none" stroke="#999" stroke-width="0.8"/>
<line x1="942.72" y1="356.72" x2="947.12" y2="351.88" stroke="#aaa" stroke-width="0.7"/>
<line x1="944.04" y1="357.6" x2="948" y2="353.2" stroke="#bbb" stroke-width="0.6"/>
<text x="944.92" y="370.4" font-size="10.5" font-weight="bold" text-anchor="middle">14</text>
<circle cx="970.6" cy="354.3" r="4.4" fill="none" stroke="#999" stroke-width="0.8"/>
<line x1="968.4" y1="356.72" x2="972.8" y2="351.88" stroke="#aaa" stroke-width="0.7"/>
<line x1="969.72" y1="357.6" x2="973.68" y2="353.2" stroke="#bbb" stroke-width="0.6"/>
<text x="970.6" y="370.4" font-size="10.5" font-weight="bold" text-anchor="middle">15</text>
<circle cx="996.28" cy="354.3" r="4.4" fill="none" stroke="#999" stroke-width="0.8"/>
<line x1="994.08" y1="356.72" x2="998.48" y2="351.88" stroke="#aaa" stroke-width="0.7"/>
<line x1="995.4" y1="357.6" x2="999.36" y2="353.2" stroke="#bbb" stroke-width="0.6"/>
<text x="996.28" y="370.4" font-size="10.5" font-weight="bold" text-anchor="middle">16</text>
<text x="602.6" y="384.7" font-size="10.3" font-weight="bold" textLength="17.6" lengthAdjust="spacingAndGlyphs">24V</text>
<text x="626.8" y="384.7" font-size="10.3" font-weight="bold" textLength="20.2" lengthAdjust="spacingAndGlyphs">GND</text>
<text x="671.8" y="384.7" font-size="10.3" font-weight="bold" textLength="9.5" lengthAdjust="spacingAndGlyphs">K1</text>
<text x="721.3" y="384.7" font-size="10.3" font-weight="bold" textLength="11" lengthAdjust="spacingAndGlyphs">K2</text>
<text x="824.4" y="384.7" font-size="10.3" font-weight="bold" textLength="11.8" lengthAdjust="spacingAndGlyphs">K3</text>
<polyline points="867.3,373.5 867.3,379.5 882.2,379.5" fill="none" stroke="#555" stroke-width="0.9"/>
<polyline points="905.6,379.5 920.5,379.5 920.5,373.5" fill="none" stroke="#555" stroke-width="0.9"/>
<text x="890" y="384.6" font-size="10.3" font-weight="bold" textLength="9.3" lengthAdjust="spacingAndGlyphs">P1</text>
<polyline points="945.7,373.5 945.7,379.5 960,379.5" fill="none" stroke="#555" stroke-width="0.9"/>
<polyline points="982.9,379.5 997.8,379.5 997.8,373.5" fill="none" stroke="#555" stroke-width="0.9"/>
<text x="966.7" y="384.6" font-size="10.3" font-weight="bold" textLength="10.8" lengthAdjust="spacingAndGlyphs">P2</text>
<polyline points="3.5,397.6 3.5,418 610.4,418 610.4,398" fill="none" stroke="#666" stroke-width="1.2"/>
<text x="31.2" y="409.9" font-size="16.3" font-weight="bold" textLength="59.6" lengthAdjust="spacingAndGlyphs" style="stroke:#111;stroke-width:0.32px">MAX 4A</text>
<text x="103.8" y="407.1" font-size="7.4" font-weight="bold" textLength="51.7" lengthAdjust="spacingAndGlyphs">ZACISKACH 4, 5</text>
<text x="196.9" y="405.2" font-size="6.9" font-weight="bold" textLength="75.6" lengthAdjust="spacingAndGlyphs">gdy nie ma czujki dymu</text>
<text x="304.5" y="403.6" font-size="6.9" font-weight="bold" textLength="50" lengthAdjust="spacingAndGlyphs">gdy nie ma RPO</text>
<text x="389.9" y="404.1" font-size="6.9" font-weight="bold" textLength="52.2" lengthAdjust="spacingAndGlyphs">(NO, NC lub Vds)</text>
<text x="462.4" y="404.1" font-size="6.9" font-weight="bold" textLength="74.1" lengthAdjust="spacingAndGlyphs">gdy nie ma&#160;&#160;krańcówek</text>
<text x="546.2" y="404" font-size="6.9" font-weight="bold" textLength="58" lengthAdjust="spacingAndGlyphs">29, 30 gdy nie ma</text>
<text x="546.2" y="412.2" font-size="6.9" font-weight="bold" textLength="12.8" lengthAdjust="spacingAndGlyphs">CSP</text>
<polyline points="616.5,398 616.5,417.6 992.7,417.6 992.7,398" fill="none" stroke="#666" stroke-width="1.2"/>
<text x="644.3" y="410.5" font-size="17" font-weight="bold" textLength="57.1" lengthAdjust="spacingAndGlyphs" style="stroke:#111;stroke-width:0.32px">Max 4A</text>
<text x="722.2" y="409.5" font-size="6.6" font-weight="bold" textLength="51.2" lengthAdjust="spacingAndGlyphs">ZACISKACH 4, 5</text>
<text x="894.8" y="410.6" font-size="6.5" font-weight="bold" textLength="74.2" lengthAdjust="spacingAndGlyphs">gdy nie ma&#160;&#160;krańcówek</text>
<g clip-path="url(#cl1)">
<text x="729.7" y="400.7" font-size="6.2" font-weight="bold" textLength="36.2" lengthAdjust="spacingAndGlyphs">ZWORA NA</text>
<text x="892.3" y="402.3" font-size="6.5" font-weight="bold" textLength="78.6" lengthAdjust="spacingAndGlyphs">Zwora na 26, 27 i 26, 28</text>
</g>
</svg>
</body></html>
